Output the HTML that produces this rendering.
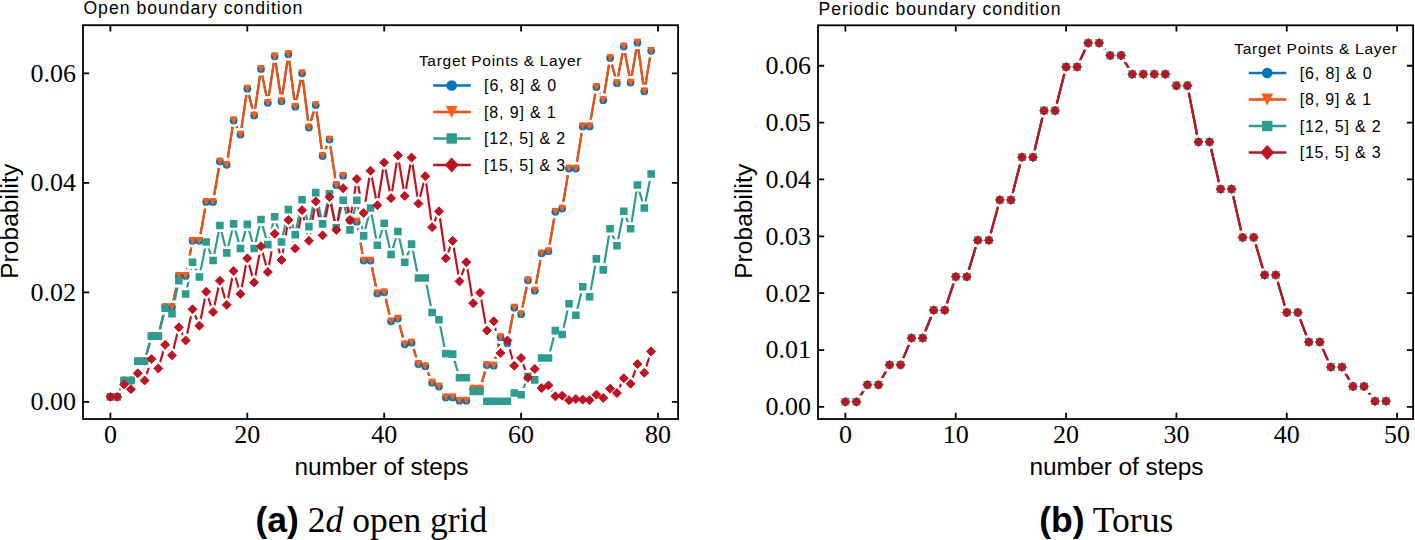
<!DOCTYPE html>
<html><head><meta charset="utf-8"><title>Probability plots</title>
<style>
html,body{margin:0;padding:0;background:#fff;}
body{width:1415px;height:540px;overflow:hidden;}
svg{display:block;}
.tk{font-family:"Liberation Serif",serif;font-size:26px;fill:#000;}
.lg{font-family:"Liberation Sans",sans-serif;font-size:16px;fill:#000;}
.lgt{font-family:"Liberation Sans",sans-serif;font-size:15.5px;fill:#000;}
.ttl{font-family:"Liberation Sans",sans-serif;font-size:17.6px;fill:#000;}
.al{font-family:"Liberation Sans",sans-serif;font-size:24.4px;fill:#000;}
.cap{font-family:"Liberation Serif",serif;font-size:35.5px;fill:#000;}
.capb{font-family:"Liberation Sans",sans-serif;font-weight:bold;}
</style></head>
<body>
<svg width="1415" height="540" viewBox="0 0 1415 540">
<rect width="1415" height="540" fill="#fff"/>
<clipPath id="cl"><rect x="83" y="25.2" width="595.1" height="393.8"/></clipPath>
<g clip-path="url(#cl)">
<polyline points="110.4,396.87 117.25,396.87 124.09,380.45 130.94,380.45 137.78,361.29 144.62,361.29 151.47,336.1 158.31,336.1 165.16,307.08 172,307.08 178.85,275.88 185.69,275.88 192.54,240.84 199.38,240.84 206.23,201.96 213.07,201.96 219.92,161.45 226.76,164.73 233.61,120.38 240.46,134.62 247.3,88.63 254.15,115.46 260.99,68.92 267.84,102.87 274.68,56.33 281.52,101.22 288.37,54.14 295.22,106.7 302.06,73.3 308.9,127.5 315.75,105.06 322.6,155.97 329.44,139.55 336.28,184.99 343.13,175.68 349.98,220.58 356.82,221.67 363.66,260.55 370.51,260.55 377.36,293.39 384.2,292.3 391.04,321.32 397.89,318.58 404.74,344.31 411.58,342.67 418.42,364.02 425.27,366.21 432.12,382.64 438.96,386.47 445.8,397.42 452.65,397.42 459.5,400.7 466.34,400.7 473.18,388.66 480.03,388.66 486.88,365.12 493.72,365.67 500.56,337.19 507.41,343.22 514.25,307.63 521.1,314.2 527.94,280.25 534.79,290.66 541.63,253.43 548.48,251.24 555.33,211.82 562.17,208.53 569.01,168.57 575.86,168.57 582.71,126.41 589.55,126.41 596.39,86.99 603.24,100.13 610.09,57.97 616.93,83.16 623.77,46.47 630.62,82.61 637.46,42.64 644.31,91.37 651.15,50.85" fill="none" stroke="#0077BB" stroke-width="2.2" stroke-linejoin="round"/>
<polyline points="110.4,396.87 117.25,396.87 124.09,380.45 130.94,380.45 137.78,361.29 144.62,361.29 151.47,336.1 158.31,336.1 165.16,307.08 172,307.08 178.85,275.88 185.69,275.88 192.54,240.84 199.38,240.84 206.23,201.96 213.07,201.96 219.92,161.45 226.76,164.73 233.61,120.38 240.46,134.62 247.3,88.63 254.15,115.46 260.99,68.92 267.84,102.87 274.68,56.33 281.52,101.22 288.37,54.14 295.22,106.7 302.06,73.3 308.9,127.5 315.75,105.06 322.6,155.97 329.44,139.55 336.28,184.99 343.13,175.68 349.98,220.58 356.82,221.67 363.66,260.55 370.51,260.55 377.36,293.39 384.2,292.3 391.04,321.32 397.89,318.58 404.74,344.31 411.58,342.67 418.42,364.02 425.27,366.21 432.12,382.64 438.96,386.47 445.8,397.42 452.65,397.42 459.5,400.7 466.34,400.7 473.18,388.66 480.03,388.66 486.88,365.12 493.72,365.67 500.56,337.19 507.41,343.22 514.25,307.63 521.1,314.2 527.94,280.25 534.79,290.66 541.63,253.43 548.48,251.24 555.33,211.82 562.17,208.53 569.01,168.57 575.86,168.57 582.71,126.41 589.55,126.41 596.39,86.99 603.24,100.13 610.09,57.97 616.93,83.16 623.77,46.47 630.62,82.61 637.46,42.64 644.31,91.37 651.15,50.85" fill="none" stroke="#FB4D06" stroke-width="2.2" stroke-linejoin="round"/>
<polyline points="110.4,396.87 117.25,396.87 124.09,380.45 130.94,380.45 137.78,361.29 144.62,361.29 151.47,336.1 158.31,336.1 165.16,308.18 172,313.65 178.85,280.8 185.69,293.94 192.54,262.19 199.38,276.97 206.23,241.93 213.07,260.55 219.92,225.51 226.76,252.88 233.61,223.86 240.46,248.5 247.3,224.41 254.15,248.5 260.99,219.48 267.84,244.67 274.68,216.75 281.52,241.93 288.37,209.63 295.22,234.81 302.06,199.77 308.9,226.6 315.75,192.66 322.6,223.86 329.44,193.75 336.28,227.69 343.13,200.32 349.98,229.89 356.82,200.32 363.66,235.91 370.51,207.99 377.36,245.22 384.2,223.32 391.04,254.52 397.89,231.53 404.74,262.19 411.58,244.12 418.42,278.07 425.27,278.07 432.12,312.56 438.96,319.68 445.8,353.62 452.65,354.17 459.5,377.71 466.34,377.71 473.18,391.4 480.03,391.4 486.88,401.25 493.72,401.25 500.56,401.25 507.41,401.25 514.25,393.04 521.1,394.68 527.94,376.62 534.79,379.9 541.63,358 548.48,358 555.33,330.62 562.17,334.46 569.01,303.8 575.86,315.3 582.71,286.82 589.55,296.68 596.39,258.9 603.24,269.85 610.09,228.79 616.93,245.76 623.77,211.27 630.62,228.79 637.46,184.99 644.31,207.99 651.15,174.04" fill="none" stroke="#2A9D8F" stroke-width="2.2" stroke-linejoin="round"/>
<polyline points="110.4,396.87 117.25,396.87 124.09,384.28 130.94,389.21 137.78,373.33 144.62,380.45 151.47,359.1 158.31,368.4 165.16,344.86 172,355.26 178.85,327.34 185.69,340.48 192.54,309.27 199.38,325.7 206.23,291.75 213.07,312.01 219.92,280.8 226.76,304.89 233.61,270.95 240.46,293.94 247.3,258.36 254.15,282.44 260.99,246.31 267.84,272.04 274.68,233.72 281.52,260 288.37,220.03 295.22,248.5 302.06,210.17 308.9,240.84 315.75,201.42 322.6,235.36 329.44,197.03 336.28,229.89 343.13,188.28 349.98,220.03 356.82,178.97 363.66,212.91 370.51,170.75 377.36,205.25 384.2,162.54 391.04,198.13 397.89,155.43 404.74,195.94 411.58,157.62 418.42,203.6 425.27,176.23 432.12,227.15 438.96,211.27 445.8,258.36 452.65,240.84 459.5,281.35 466.34,262.19 473.18,303.25 480.03,292.85 486.88,330.62 493.72,321.32 500.56,353.07 507.41,340.48 514.25,365.67 521.1,358 527.94,377.71 534.79,368.95 541.63,388.11 548.48,385.38 555.33,396.32 562.17,395.78 569.01,400.16 575.86,399.06 582.71,399.61 589.55,400.16 596.39,394.68 603.24,397.97 610.09,388.66 616.93,393.04 623.77,378.26 630.62,383.73 637.46,364.02 644.31,372.78 651.15,351.43" fill="none" stroke="#C1121F" stroke-width="2.2" stroke-linejoin="round"/>
<path d="M106.5 396.87a3.9 3.9 0 1 0 7.8 0a3.9 3.9 0 1 0 -7.8 0zM113.34 396.87a3.9 3.9 0 1 0 7.8 0a3.9 3.9 0 1 0 -7.8 0zM120.19 380.45a3.9 3.9 0 1 0 7.8 0a3.9 3.9 0 1 0 -7.8 0zM127.03 380.45a3.9 3.9 0 1 0 7.8 0a3.9 3.9 0 1 0 -7.8 0zM133.88 361.29a3.9 3.9 0 1 0 7.8 0a3.9 3.9 0 1 0 -7.8 0zM140.72 361.29a3.9 3.9 0 1 0 7.8 0a3.9 3.9 0 1 0 -7.8 0zM147.57 336.1a3.9 3.9 0 1 0 7.8 0a3.9 3.9 0 1 0 -7.8 0zM154.41 336.1a3.9 3.9 0 1 0 7.8 0a3.9 3.9 0 1 0 -7.8 0zM161.26 307.08a3.9 3.9 0 1 0 7.8 0a3.9 3.9 0 1 0 -7.8 0zM168.1 307.08a3.9 3.9 0 1 0 7.8 0a3.9 3.9 0 1 0 -7.8 0zM174.95 275.88a3.9 3.9 0 1 0 7.8 0a3.9 3.9 0 1 0 -7.8 0zM181.79 275.88a3.9 3.9 0 1 0 7.8 0a3.9 3.9 0 1 0 -7.8 0zM188.64 240.84a3.9 3.9 0 1 0 7.8 0a3.9 3.9 0 1 0 -7.8 0zM195.48 240.84a3.9 3.9 0 1 0 7.8 0a3.9 3.9 0 1 0 -7.8 0zM202.33 201.96a3.9 3.9 0 1 0 7.8 0a3.9 3.9 0 1 0 -7.8 0zM209.17 201.96a3.9 3.9 0 1 0 7.8 0a3.9 3.9 0 1 0 -7.8 0zM216.02 161.45a3.9 3.9 0 1 0 7.8 0a3.9 3.9 0 1 0 -7.8 0zM222.86 164.73a3.9 3.9 0 1 0 7.8 0a3.9 3.9 0 1 0 -7.8 0zM229.71 120.38a3.9 3.9 0 1 0 7.8 0a3.9 3.9 0 1 0 -7.8 0zM236.56 134.62a3.9 3.9 0 1 0 7.8 0a3.9 3.9 0 1 0 -7.8 0zM243.4 88.63a3.9 3.9 0 1 0 7.8 0a3.9 3.9 0 1 0 -7.8 0zM250.25 115.46a3.9 3.9 0 1 0 7.8 0a3.9 3.9 0 1 0 -7.8 0zM257.09 68.92a3.9 3.9 0 1 0 7.8 0a3.9 3.9 0 1 0 -7.8 0zM263.94 102.87a3.9 3.9 0 1 0 7.8 0a3.9 3.9 0 1 0 -7.8 0zM270.78 56.33a3.9 3.9 0 1 0 7.8 0a3.9 3.9 0 1 0 -7.8 0zM277.62 101.22a3.9 3.9 0 1 0 7.8 0a3.9 3.9 0 1 0 -7.8 0zM284.47 54.14a3.9 3.9 0 1 0 7.8 0a3.9 3.9 0 1 0 -7.8 0zM291.32 106.7a3.9 3.9 0 1 0 7.8 0a3.9 3.9 0 1 0 -7.8 0zM298.16 73.3a3.9 3.9 0 1 0 7.8 0a3.9 3.9 0 1 0 -7.8 0zM305 127.5a3.9 3.9 0 1 0 7.8 0a3.9 3.9 0 1 0 -7.8 0zM311.85 105.06a3.9 3.9 0 1 0 7.8 0a3.9 3.9 0 1 0 -7.8 0zM318.7 155.97a3.9 3.9 0 1 0 7.8 0a3.9 3.9 0 1 0 -7.8 0zM325.54 139.55a3.9 3.9 0 1 0 7.8 0a3.9 3.9 0 1 0 -7.8 0zM332.38 184.99a3.9 3.9 0 1 0 7.8 0a3.9 3.9 0 1 0 -7.8 0zM339.23 175.68a3.9 3.9 0 1 0 7.8 0a3.9 3.9 0 1 0 -7.8 0zM346.08 220.58a3.9 3.9 0 1 0 7.8 0a3.9 3.9 0 1 0 -7.8 0zM352.92 221.67a3.9 3.9 0 1 0 7.8 0a3.9 3.9 0 1 0 -7.8 0zM359.76 260.55a3.9 3.9 0 1 0 7.8 0a3.9 3.9 0 1 0 -7.8 0zM366.61 260.55a3.9 3.9 0 1 0 7.8 0a3.9 3.9 0 1 0 -7.8 0zM373.46 293.39a3.9 3.9 0 1 0 7.8 0a3.9 3.9 0 1 0 -7.8 0zM380.3 292.3a3.9 3.9 0 1 0 7.8 0a3.9 3.9 0 1 0 -7.8 0zM387.14 321.32a3.9 3.9 0 1 0 7.8 0a3.9 3.9 0 1 0 -7.8 0zM393.99 318.58a3.9 3.9 0 1 0 7.8 0a3.9 3.9 0 1 0 -7.8 0zM400.84 344.31a3.9 3.9 0 1 0 7.8 0a3.9 3.9 0 1 0 -7.8 0zM407.68 342.67a3.9 3.9 0 1 0 7.8 0a3.9 3.9 0 1 0 -7.8 0zM414.52 364.02a3.9 3.9 0 1 0 7.8 0a3.9 3.9 0 1 0 -7.8 0zM421.37 366.21a3.9 3.9 0 1 0 7.8 0a3.9 3.9 0 1 0 -7.8 0zM428.22 382.64a3.9 3.9 0 1 0 7.8 0a3.9 3.9 0 1 0 -7.8 0zM435.06 386.47a3.9 3.9 0 1 0 7.8 0a3.9 3.9 0 1 0 -7.8 0zM441.9 397.42a3.9 3.9 0 1 0 7.8 0a3.9 3.9 0 1 0 -7.8 0zM448.75 397.42a3.9 3.9 0 1 0 7.8 0a3.9 3.9 0 1 0 -7.8 0zM455.6 400.7a3.9 3.9 0 1 0 7.8 0a3.9 3.9 0 1 0 -7.8 0zM462.44 400.7a3.9 3.9 0 1 0 7.8 0a3.9 3.9 0 1 0 -7.8 0zM469.28 388.66a3.9 3.9 0 1 0 7.8 0a3.9 3.9 0 1 0 -7.8 0zM476.13 388.66a3.9 3.9 0 1 0 7.8 0a3.9 3.9 0 1 0 -7.8 0zM482.98 365.12a3.9 3.9 0 1 0 7.8 0a3.9 3.9 0 1 0 -7.8 0zM489.82 365.67a3.9 3.9 0 1 0 7.8 0a3.9 3.9 0 1 0 -7.8 0zM496.66 337.19a3.9 3.9 0 1 0 7.8 0a3.9 3.9 0 1 0 -7.8 0zM503.51 343.22a3.9 3.9 0 1 0 7.8 0a3.9 3.9 0 1 0 -7.8 0zM510.36 307.63a3.9 3.9 0 1 0 7.8 0a3.9 3.9 0 1 0 -7.8 0zM517.2 314.2a3.9 3.9 0 1 0 7.8 0a3.9 3.9 0 1 0 -7.8 0zM524.04 280.25a3.9 3.9 0 1 0 7.8 0a3.9 3.9 0 1 0 -7.8 0zM530.89 290.66a3.9 3.9 0 1 0 7.8 0a3.9 3.9 0 1 0 -7.8 0zM537.74 253.43a3.9 3.9 0 1 0 7.8 0a3.9 3.9 0 1 0 -7.8 0zM544.58 251.24a3.9 3.9 0 1 0 7.8 0a3.9 3.9 0 1 0 -7.8 0zM551.43 211.82a3.9 3.9 0 1 0 7.8 0a3.9 3.9 0 1 0 -7.8 0zM558.27 208.53a3.9 3.9 0 1 0 7.8 0a3.9 3.9 0 1 0 -7.8 0zM565.12 168.57a3.9 3.9 0 1 0 7.8 0a3.9 3.9 0 1 0 -7.8 0zM571.96 168.57a3.9 3.9 0 1 0 7.8 0a3.9 3.9 0 1 0 -7.8 0zM578.81 126.41a3.9 3.9 0 1 0 7.8 0a3.9 3.9 0 1 0 -7.8 0zM585.65 126.41a3.9 3.9 0 1 0 7.8 0a3.9 3.9 0 1 0 -7.8 0zM592.5 86.99a3.9 3.9 0 1 0 7.8 0a3.9 3.9 0 1 0 -7.8 0zM599.34 100.13a3.9 3.9 0 1 0 7.8 0a3.9 3.9 0 1 0 -7.8 0zM606.19 57.97a3.9 3.9 0 1 0 7.8 0a3.9 3.9 0 1 0 -7.8 0zM613.03 83.16a3.9 3.9 0 1 0 7.8 0a3.9 3.9 0 1 0 -7.8 0zM619.88 46.47a3.9 3.9 0 1 0 7.8 0a3.9 3.9 0 1 0 -7.8 0zM626.72 82.61a3.9 3.9 0 1 0 7.8 0a3.9 3.9 0 1 0 -7.8 0zM633.56 42.64a3.9 3.9 0 1 0 7.8 0a3.9 3.9 0 1 0 -7.8 0zM640.41 91.37a3.9 3.9 0 1 0 7.8 0a3.9 3.9 0 1 0 -7.8 0zM647.25 50.85a3.9 3.9 0 1 0 7.8 0a3.9 3.9 0 1 0 -7.8 0zM106.6 393.07H114.2L110.4 400.67zM113.45 393.07H121.05L117.25 400.67zM120.29 376.65H127.89L124.09 384.25zM127.14 376.65H134.74L130.94 384.25zM133.98 357.49H141.58L137.78 365.09zM140.82 357.49H148.43L144.62 365.09zM147.67 332.3H155.27L151.47 339.9zM154.51 332.3H162.12L158.31 339.9zM161.36 303.28H168.96L165.16 310.88zM168.2 303.28H175.81L172 310.88zM175.05 272.07H182.65L178.85 279.68zM181.89 272.07H189.5L185.69 279.68zM188.74 237.03H196.34L192.54 244.64zM195.58 237.03H203.19L199.38 244.64zM202.43 198.16H210.03L206.23 205.76zM209.27 198.16H216.88L213.07 205.76zM216.12 157.65H223.72L219.92 165.25zM222.96 160.93H230.56L226.76 168.53zM229.81 116.58H237.41L233.61 124.18zM236.66 130.82H244.26L240.46 138.42zM243.5 84.83H251.1L247.3 92.43zM250.34 111.66H257.94L254.15 119.26zM257.19 65.12H264.79L260.99 72.72zM264.04 99.07H271.64L267.84 106.67zM270.88 52.53H278.48L274.68 60.13zM277.72 97.42H285.32L281.52 105.02zM284.57 50.34H292.17L288.37 57.94zM291.42 102.9H299.02L295.22 110.5zM298.26 69.5H305.86L302.06 77.1zM305.1 123.7H312.7L308.9 131.3zM311.95 101.26H319.55L315.75 108.86zM318.8 152.17H326.4L322.6 159.77zM325.64 135.75H333.24L329.44 143.35zM332.48 181.19H340.08L336.28 188.79zM339.33 171.88H346.93L343.13 179.48zM346.18 216.78H353.78L349.98 224.38zM353.02 217.87H360.62L356.82 225.47zM359.86 256.75H367.46L363.66 264.35zM366.71 256.75H374.31L370.51 264.35zM373.56 289.59H381.16L377.36 297.19zM380.4 288.5H388L384.2 296.1zM387.24 317.52H394.84L391.04 325.12zM394.09 314.78H401.69L397.89 322.38zM400.94 340.51H408.54L404.74 348.11zM407.78 338.87H415.38L411.58 346.47zM414.62 360.22H422.22L418.42 367.82zM421.47 362.41H429.07L425.27 370.01zM428.31 378.84H435.92L432.12 386.44zM435.16 382.67H442.76L438.96 390.27zM442 393.62H449.6L445.8 401.22zM448.85 393.62H456.45L452.65 401.22zM455.69 396.9H463.3L459.5 404.5zM462.54 396.9H470.14L466.34 404.5zM469.38 384.86H476.98L473.18 392.46zM476.23 384.86H483.83L480.03 392.46zM483.07 361.32H490.68L486.88 368.92zM489.92 361.87H497.52L493.72 369.47zM496.76 333.39H504.36L500.56 341zM503.61 339.42H511.21L507.41 347.02zM510.45 303.83H518.05L514.25 311.43zM517.3 310.4H524.9L521.1 318zM524.14 276.45H531.74L527.94 284.06zM530.99 286.86H538.59L534.79 294.46zM537.84 249.63H545.43L541.63 257.23zM544.68 247.44H552.28L548.48 255.04zM551.53 208.02H559.12L555.33 215.62zM558.37 204.73H565.97L562.17 212.33zM565.22 164.77H572.81L569.01 172.37zM572.06 164.77H579.66L575.86 172.37zM578.91 122.61H586.5L582.71 130.21zM585.75 122.61H593.35L589.55 130.21zM592.6 83.19H600.19L596.39 90.79zM599.44 96.33H607.04L603.24 103.93zM606.29 54.17H613.88L610.09 61.77zM613.13 79.36H620.73L616.93 86.96zM619.98 42.67H627.57L623.77 50.27zM626.82 78.81H634.42L630.62 86.41zM633.66 38.84H641.26L637.46 46.44zM640.51 87.57H648.11L644.31 95.17zM647.36 47.05H654.95L651.15 54.65zM106.6 393.07h7.6v7.6h-7.6zM113.45 393.07h7.6v7.6h-7.6zM120.29 376.65h7.6v7.6h-7.6zM127.14 376.65h7.6v7.6h-7.6zM133.98 357.49h7.6v7.6h-7.6zM140.82 357.49h7.6v7.6h-7.6zM147.67 332.3h7.6v7.6h-7.6zM154.51 332.3h7.6v7.6h-7.6zM161.36 304.38h7.6v7.6h-7.6zM168.2 309.85h7.6v7.6h-7.6zM175.05 277h7.6v7.6h-7.6zM181.89 290.14h7.6v7.6h-7.6zM188.74 258.39h7.6v7.6h-7.6zM195.58 273.17h7.6v7.6h-7.6zM202.43 238.13h7.6v7.6h-7.6zM209.27 256.75h7.6v7.6h-7.6zM216.12 221.71h7.6v7.6h-7.6zM222.96 249.08h7.6v7.6h-7.6zM229.81 220.06h7.6v7.6h-7.6zM236.66 244.7h7.6v7.6h-7.6zM243.5 220.61h7.6v7.6h-7.6zM250.34 244.7h7.6v7.6h-7.6zM257.19 215.68h7.6v7.6h-7.6zM264.04 240.87h7.6v7.6h-7.6zM270.88 212.95h7.6v7.6h-7.6zM277.72 238.13h7.6v7.6h-7.6zM284.57 205.83h7.6v7.6h-7.6zM291.42 231.01h7.6v7.6h-7.6zM298.26 195.97h7.6v7.6h-7.6zM305.1 222.8h7.6v7.6h-7.6zM311.95 188.86h7.6v7.6h-7.6zM318.8 220.06h7.6v7.6h-7.6zM325.64 189.95h7.6v7.6h-7.6zM332.48 223.89h7.6v7.6h-7.6zM339.33 196.52h7.6v7.6h-7.6zM346.18 226.09h7.6v7.6h-7.6zM353.02 196.52h7.6v7.6h-7.6zM359.86 232.11h7.6v7.6h-7.6zM366.71 204.19h7.6v7.6h-7.6zM373.56 241.41h7.6v7.6h-7.6zM380.4 219.52h7.6v7.6h-7.6zM387.24 250.72h7.6v7.6h-7.6zM394.09 227.73h7.6v7.6h-7.6zM400.94 258.39h7.6v7.6h-7.6zM407.78 240.32h7.6v7.6h-7.6zM414.62 274.27h7.6v7.6h-7.6zM421.47 274.27h7.6v7.6h-7.6zM428.31 308.76h7.6v7.6h-7.6zM435.16 315.88h7.6v7.6h-7.6zM442 349.82h7.6v7.6h-7.6zM448.85 350.37h7.6v7.6h-7.6zM455.69 373.91h7.6v7.6h-7.6zM462.54 373.91h7.6v7.6h-7.6zM469.38 387.6h7.6v7.6h-7.6zM476.23 387.6h7.6v7.6h-7.6zM483.07 397.45h7.6v7.6h-7.6zM489.92 397.45h7.6v7.6h-7.6zM496.76 397.45h7.6v7.6h-7.6zM503.61 397.45h7.6v7.6h-7.6zM510.45 389.24h7.6v7.6h-7.6zM517.3 390.88h7.6v7.6h-7.6zM524.14 372.81h7.6v7.6h-7.6zM530.99 376.1h7.6v7.6h-7.6zM537.84 354.2h7.6v7.6h-7.6zM544.68 354.2h7.6v7.6h-7.6zM551.53 326.82h7.6v7.6h-7.6zM558.37 330.66h7.6v7.6h-7.6zM565.22 300h7.6v7.6h-7.6zM572.06 311.5h7.6v7.6h-7.6zM578.91 283.02h7.6v7.6h-7.6zM585.75 292.88h7.6v7.6h-7.6zM592.6 255.1h7.6v7.6h-7.6zM599.44 266.05h7.6v7.6h-7.6zM606.29 224.99h7.6v7.6h-7.6zM613.13 241.96h7.6v7.6h-7.6zM619.98 207.47h7.6v7.6h-7.6zM626.82 224.99h7.6v7.6h-7.6zM633.66 181.19h7.6v7.6h-7.6zM640.51 204.19h7.6v7.6h-7.6zM647.36 170.24h7.6v7.6h-7.6zM110.4 392.37L114.9 396.87L110.4 401.37L105.9 396.87zM117.25 392.37L121.75 396.87L117.25 401.37L112.75 396.87zM124.09 379.78L128.59 384.28L124.09 388.78L119.59 384.28zM130.94 384.71L135.44 389.21L130.94 393.71L126.44 389.21zM137.78 368.83L142.28 373.33L137.78 377.83L133.28 373.33zM144.62 375.95L149.12 380.45L144.62 384.95L140.12 380.45zM151.47 354.6L155.97 359.1L151.47 363.6L146.97 359.1zM158.31 363.9L162.81 368.4L158.31 372.9L153.81 368.4zM165.16 340.36L169.66 344.86L165.16 349.36L160.66 344.86zM172 350.76L176.5 355.26L172 359.76L167.5 355.26zM178.85 322.84L183.35 327.34L178.85 331.84L174.35 327.34zM185.69 335.98L190.19 340.48L185.69 344.98L181.19 340.48zM192.54 304.77L197.04 309.27L192.54 313.77L188.04 309.27zM199.38 321.2L203.88 325.7L199.38 330.2L194.88 325.7zM206.23 287.25L210.73 291.75L206.23 296.25L201.73 291.75zM213.07 307.51L217.57 312.01L213.07 316.51L208.57 312.01zM219.92 276.3L224.42 280.8L219.92 285.3L215.42 280.8zM226.76 300.39L231.26 304.89L226.76 309.39L222.26 304.89zM233.61 266.45L238.11 270.95L233.61 275.45L229.11 270.95zM240.46 289.44L244.96 293.94L240.46 298.44L235.96 293.94zM247.3 253.86L251.8 258.36L247.3 262.86L242.8 258.36zM254.15 277.94L258.64 282.44L254.15 286.94L249.65 282.44zM260.99 241.81L265.49 246.31L260.99 250.81L256.49 246.31zM267.84 267.54L272.34 272.04L267.84 276.54L263.34 272.04zM274.68 229.22L279.18 233.72L274.68 238.22L270.18 233.72zM281.52 255.5L286.02 260L281.52 264.5L277.02 260zM288.37 215.53L292.87 220.03L288.37 224.53L283.87 220.03zM295.22 244L299.72 248.5L295.22 253L290.72 248.5zM302.06 205.67L306.56 210.17L302.06 214.67L297.56 210.17zM308.9 236.34L313.4 240.84L308.9 245.34L304.4 240.84zM315.75 196.92L320.25 201.42L315.75 205.92L311.25 201.42zM322.6 230.86L327.1 235.36L322.6 239.86L318.1 235.36zM329.44 192.53L333.94 197.03L329.44 201.53L324.94 197.03zM336.28 225.39L340.78 229.89L336.28 234.39L331.78 229.89zM343.13 183.78L347.63 188.28L343.13 192.78L338.63 188.28zM349.98 215.53L354.48 220.03L349.98 224.53L345.48 220.03zM356.82 174.47L361.32 178.97L356.82 183.47L352.32 178.97zM363.66 208.41L368.16 212.91L363.66 217.41L359.16 212.91zM370.51 166.25L375.01 170.75L370.51 175.25L366.01 170.75zM377.36 200.75L381.86 205.25L377.36 209.75L372.86 205.25zM384.2 158.04L388.7 162.54L384.2 167.04L379.7 162.54zM391.04 193.63L395.54 198.13L391.04 202.63L386.54 198.13zM397.89 150.93L402.39 155.43L397.89 159.93L393.39 155.43zM404.74 191.44L409.24 195.94L404.74 200.44L400.24 195.94zM411.58 153.12L416.08 157.62L411.58 162.12L407.08 157.62zM418.42 199.1L422.92 203.6L418.42 208.1L413.92 203.6zM425.27 171.73L429.77 176.23L425.27 180.73L420.77 176.23zM432.12 222.65L436.62 227.15L432.12 231.65L427.62 227.15zM438.96 206.77L443.46 211.27L438.96 215.77L434.46 211.27zM445.8 253.86L450.3 258.36L445.8 262.86L441.3 258.36zM452.65 236.34L457.15 240.84L452.65 245.34L448.15 240.84zM459.5 276.85L464 281.35L459.5 285.85L455 281.35zM466.34 257.69L470.84 262.19L466.34 266.69L461.84 262.19zM473.18 298.75L477.68 303.25L473.18 307.75L468.68 303.25zM480.03 288.35L484.53 292.85L480.03 297.35L475.53 292.85zM486.88 326.12L491.38 330.62L486.88 335.12L482.38 330.62zM493.72 316.82L498.22 321.32L493.72 325.82L489.22 321.32zM500.56 348.57L505.06 353.07L500.56 357.57L496.06 353.07zM507.41 335.98L511.91 340.48L507.41 344.98L502.91 340.48zM514.25 361.17L518.75 365.67L514.25 370.17L509.75 365.67zM521.1 353.5L525.6 358L521.1 362.5L516.6 358zM527.94 373.21L532.44 377.71L527.94 382.21L523.44 377.71zM534.79 364.45L539.29 368.95L534.79 373.45L530.29 368.95zM541.63 383.61L546.13 388.11L541.63 392.61L537.13 388.11zM548.48 380.88L552.98 385.38L548.48 389.88L543.98 385.38zM555.33 391.82L559.83 396.32L555.33 400.82L550.83 396.32zM562.17 391.28L566.67 395.78L562.17 400.28L557.67 395.78zM569.01 395.66L573.51 400.16L569.01 404.66L564.51 400.16zM575.86 394.56L580.36 399.06L575.86 403.56L571.36 399.06zM582.71 395.11L587.21 399.61L582.71 404.11L578.21 399.61zM589.55 395.66L594.05 400.16L589.55 404.66L585.05 400.16zM596.39 390.18L600.89 394.68L596.39 399.18L591.89 394.68zM603.24 393.47L607.74 397.97L603.24 402.47L598.74 397.97zM610.09 384.16L614.59 388.66L610.09 393.16L605.59 388.66zM616.93 388.54L621.43 393.04L616.93 397.54L612.43 393.04zM623.77 373.76L628.27 378.26L623.77 382.76L619.27 378.26zM630.62 379.23L635.12 383.73L630.62 388.23L626.12 383.73zM637.46 359.52L641.96 364.02L637.46 368.52L632.96 364.02zM644.31 368.28L648.81 372.78L644.31 377.28L639.81 372.78zM651.15 346.93L655.65 351.43L651.15 355.93L646.65 351.43z" fill="#fff" stroke="#fff" stroke-width="5.6" stroke-linejoin="round"/>
<path d="M106.5 396.87a3.9 3.9 0 1 0 7.8 0a3.9 3.9 0 1 0 -7.8 0zM113.34 396.87a3.9 3.9 0 1 0 7.8 0a3.9 3.9 0 1 0 -7.8 0zM120.19 380.45a3.9 3.9 0 1 0 7.8 0a3.9 3.9 0 1 0 -7.8 0zM127.03 380.45a3.9 3.9 0 1 0 7.8 0a3.9 3.9 0 1 0 -7.8 0zM133.88 361.29a3.9 3.9 0 1 0 7.8 0a3.9 3.9 0 1 0 -7.8 0zM140.72 361.29a3.9 3.9 0 1 0 7.8 0a3.9 3.9 0 1 0 -7.8 0zM147.57 336.1a3.9 3.9 0 1 0 7.8 0a3.9 3.9 0 1 0 -7.8 0zM154.41 336.1a3.9 3.9 0 1 0 7.8 0a3.9 3.9 0 1 0 -7.8 0zM161.26 307.08a3.9 3.9 0 1 0 7.8 0a3.9 3.9 0 1 0 -7.8 0zM168.1 307.08a3.9 3.9 0 1 0 7.8 0a3.9 3.9 0 1 0 -7.8 0zM174.95 275.88a3.9 3.9 0 1 0 7.8 0a3.9 3.9 0 1 0 -7.8 0zM181.79 275.88a3.9 3.9 0 1 0 7.8 0a3.9 3.9 0 1 0 -7.8 0zM188.64 240.84a3.9 3.9 0 1 0 7.8 0a3.9 3.9 0 1 0 -7.8 0zM195.48 240.84a3.9 3.9 0 1 0 7.8 0a3.9 3.9 0 1 0 -7.8 0zM202.33 201.96a3.9 3.9 0 1 0 7.8 0a3.9 3.9 0 1 0 -7.8 0zM209.17 201.96a3.9 3.9 0 1 0 7.8 0a3.9 3.9 0 1 0 -7.8 0zM216.02 161.45a3.9 3.9 0 1 0 7.8 0a3.9 3.9 0 1 0 -7.8 0zM222.86 164.73a3.9 3.9 0 1 0 7.8 0a3.9 3.9 0 1 0 -7.8 0zM229.71 120.38a3.9 3.9 0 1 0 7.8 0a3.9 3.9 0 1 0 -7.8 0zM236.56 134.62a3.9 3.9 0 1 0 7.8 0a3.9 3.9 0 1 0 -7.8 0zM243.4 88.63a3.9 3.9 0 1 0 7.8 0a3.9 3.9 0 1 0 -7.8 0zM250.25 115.46a3.9 3.9 0 1 0 7.8 0a3.9 3.9 0 1 0 -7.8 0zM257.09 68.92a3.9 3.9 0 1 0 7.8 0a3.9 3.9 0 1 0 -7.8 0zM263.94 102.87a3.9 3.9 0 1 0 7.8 0a3.9 3.9 0 1 0 -7.8 0zM270.78 56.33a3.9 3.9 0 1 0 7.8 0a3.9 3.9 0 1 0 -7.8 0zM277.62 101.22a3.9 3.9 0 1 0 7.8 0a3.9 3.9 0 1 0 -7.8 0zM284.47 54.14a3.9 3.9 0 1 0 7.8 0a3.9 3.9 0 1 0 -7.8 0zM291.32 106.7a3.9 3.9 0 1 0 7.8 0a3.9 3.9 0 1 0 -7.8 0zM298.16 73.3a3.9 3.9 0 1 0 7.8 0a3.9 3.9 0 1 0 -7.8 0zM305 127.5a3.9 3.9 0 1 0 7.8 0a3.9 3.9 0 1 0 -7.8 0zM311.85 105.06a3.9 3.9 0 1 0 7.8 0a3.9 3.9 0 1 0 -7.8 0zM318.7 155.97a3.9 3.9 0 1 0 7.8 0a3.9 3.9 0 1 0 -7.8 0zM325.54 139.55a3.9 3.9 0 1 0 7.8 0a3.9 3.9 0 1 0 -7.8 0zM332.38 184.99a3.9 3.9 0 1 0 7.8 0a3.9 3.9 0 1 0 -7.8 0zM339.23 175.68a3.9 3.9 0 1 0 7.8 0a3.9 3.9 0 1 0 -7.8 0zM346.08 220.58a3.9 3.9 0 1 0 7.8 0a3.9 3.9 0 1 0 -7.8 0zM352.92 221.67a3.9 3.9 0 1 0 7.8 0a3.9 3.9 0 1 0 -7.8 0zM359.76 260.55a3.9 3.9 0 1 0 7.8 0a3.9 3.9 0 1 0 -7.8 0zM366.61 260.55a3.9 3.9 0 1 0 7.8 0a3.9 3.9 0 1 0 -7.8 0zM373.46 293.39a3.9 3.9 0 1 0 7.8 0a3.9 3.9 0 1 0 -7.8 0zM380.3 292.3a3.9 3.9 0 1 0 7.8 0a3.9 3.9 0 1 0 -7.8 0zM387.14 321.32a3.9 3.9 0 1 0 7.8 0a3.9 3.9 0 1 0 -7.8 0zM393.99 318.58a3.9 3.9 0 1 0 7.8 0a3.9 3.9 0 1 0 -7.8 0zM400.84 344.31a3.9 3.9 0 1 0 7.8 0a3.9 3.9 0 1 0 -7.8 0zM407.68 342.67a3.9 3.9 0 1 0 7.8 0a3.9 3.9 0 1 0 -7.8 0zM414.52 364.02a3.9 3.9 0 1 0 7.8 0a3.9 3.9 0 1 0 -7.8 0zM421.37 366.21a3.9 3.9 0 1 0 7.8 0a3.9 3.9 0 1 0 -7.8 0zM428.22 382.64a3.9 3.9 0 1 0 7.8 0a3.9 3.9 0 1 0 -7.8 0zM435.06 386.47a3.9 3.9 0 1 0 7.8 0a3.9 3.9 0 1 0 -7.8 0zM441.9 397.42a3.9 3.9 0 1 0 7.8 0a3.9 3.9 0 1 0 -7.8 0zM448.75 397.42a3.9 3.9 0 1 0 7.8 0a3.9 3.9 0 1 0 -7.8 0zM455.6 400.7a3.9 3.9 0 1 0 7.8 0a3.9 3.9 0 1 0 -7.8 0zM462.44 400.7a3.9 3.9 0 1 0 7.8 0a3.9 3.9 0 1 0 -7.8 0zM469.28 388.66a3.9 3.9 0 1 0 7.8 0a3.9 3.9 0 1 0 -7.8 0zM476.13 388.66a3.9 3.9 0 1 0 7.8 0a3.9 3.9 0 1 0 -7.8 0zM482.98 365.12a3.9 3.9 0 1 0 7.8 0a3.9 3.9 0 1 0 -7.8 0zM489.82 365.67a3.9 3.9 0 1 0 7.8 0a3.9 3.9 0 1 0 -7.8 0zM496.66 337.19a3.9 3.9 0 1 0 7.8 0a3.9 3.9 0 1 0 -7.8 0zM503.51 343.22a3.9 3.9 0 1 0 7.8 0a3.9 3.9 0 1 0 -7.8 0zM510.36 307.63a3.9 3.9 0 1 0 7.8 0a3.9 3.9 0 1 0 -7.8 0zM517.2 314.2a3.9 3.9 0 1 0 7.8 0a3.9 3.9 0 1 0 -7.8 0zM524.04 280.25a3.9 3.9 0 1 0 7.8 0a3.9 3.9 0 1 0 -7.8 0zM530.89 290.66a3.9 3.9 0 1 0 7.8 0a3.9 3.9 0 1 0 -7.8 0zM537.74 253.43a3.9 3.9 0 1 0 7.8 0a3.9 3.9 0 1 0 -7.8 0zM544.58 251.24a3.9 3.9 0 1 0 7.8 0a3.9 3.9 0 1 0 -7.8 0zM551.43 211.82a3.9 3.9 0 1 0 7.8 0a3.9 3.9 0 1 0 -7.8 0zM558.27 208.53a3.9 3.9 0 1 0 7.8 0a3.9 3.9 0 1 0 -7.8 0zM565.12 168.57a3.9 3.9 0 1 0 7.8 0a3.9 3.9 0 1 0 -7.8 0zM571.96 168.57a3.9 3.9 0 1 0 7.8 0a3.9 3.9 0 1 0 -7.8 0zM578.81 126.41a3.9 3.9 0 1 0 7.8 0a3.9 3.9 0 1 0 -7.8 0zM585.65 126.41a3.9 3.9 0 1 0 7.8 0a3.9 3.9 0 1 0 -7.8 0zM592.5 86.99a3.9 3.9 0 1 0 7.8 0a3.9 3.9 0 1 0 -7.8 0zM599.34 100.13a3.9 3.9 0 1 0 7.8 0a3.9 3.9 0 1 0 -7.8 0zM606.19 57.97a3.9 3.9 0 1 0 7.8 0a3.9 3.9 0 1 0 -7.8 0zM613.03 83.16a3.9 3.9 0 1 0 7.8 0a3.9 3.9 0 1 0 -7.8 0zM619.88 46.47a3.9 3.9 0 1 0 7.8 0a3.9 3.9 0 1 0 -7.8 0zM626.72 82.61a3.9 3.9 0 1 0 7.8 0a3.9 3.9 0 1 0 -7.8 0zM633.56 42.64a3.9 3.9 0 1 0 7.8 0a3.9 3.9 0 1 0 -7.8 0zM640.41 91.37a3.9 3.9 0 1 0 7.8 0a3.9 3.9 0 1 0 -7.8 0zM647.25 50.85a3.9 3.9 0 1 0 7.8 0a3.9 3.9 0 1 0 -7.8 0z" fill="#0077BB"/>
<path d="M106.6 393.07H114.2L110.4 400.67zM113.45 393.07H121.05L117.25 400.67zM120.29 376.65H127.89L124.09 384.25zM127.14 376.65H134.74L130.94 384.25zM133.98 357.49H141.58L137.78 365.09zM140.82 357.49H148.43L144.62 365.09zM147.67 332.3H155.27L151.47 339.9zM154.51 332.3H162.12L158.31 339.9zM161.36 303.28H168.96L165.16 310.88zM168.2 303.28H175.81L172 310.88zM175.05 272.07H182.65L178.85 279.68zM181.89 272.07H189.5L185.69 279.68zM188.74 237.03H196.34L192.54 244.64zM195.58 237.03H203.19L199.38 244.64zM202.43 198.16H210.03L206.23 205.76zM209.27 198.16H216.88L213.07 205.76zM216.12 157.65H223.72L219.92 165.25zM222.96 160.93H230.56L226.76 168.53zM229.81 116.58H237.41L233.61 124.18zM236.66 130.82H244.26L240.46 138.42zM243.5 84.83H251.1L247.3 92.43zM250.34 111.66H257.94L254.15 119.26zM257.19 65.12H264.79L260.99 72.72zM264.04 99.07H271.64L267.84 106.67zM270.88 52.53H278.48L274.68 60.13zM277.72 97.42H285.32L281.52 105.02zM284.57 50.34H292.17L288.37 57.94zM291.42 102.9H299.02L295.22 110.5zM298.26 69.5H305.86L302.06 77.1zM305.1 123.7H312.7L308.9 131.3zM311.95 101.26H319.55L315.75 108.86zM318.8 152.17H326.4L322.6 159.77zM325.64 135.75H333.24L329.44 143.35zM332.48 181.19H340.08L336.28 188.79zM339.33 171.88H346.93L343.13 179.48zM346.18 216.78H353.78L349.98 224.38zM353.02 217.87H360.62L356.82 225.47zM359.86 256.75H367.46L363.66 264.35zM366.71 256.75H374.31L370.51 264.35zM373.56 289.59H381.16L377.36 297.19zM380.4 288.5H388L384.2 296.1zM387.24 317.52H394.84L391.04 325.12zM394.09 314.78H401.69L397.89 322.38zM400.94 340.51H408.54L404.74 348.11zM407.78 338.87H415.38L411.58 346.47zM414.62 360.22H422.22L418.42 367.82zM421.47 362.41H429.07L425.27 370.01zM428.31 378.84H435.92L432.12 386.44zM435.16 382.67H442.76L438.96 390.27zM442 393.62H449.6L445.8 401.22zM448.85 393.62H456.45L452.65 401.22zM455.69 396.9H463.3L459.5 404.5zM462.54 396.9H470.14L466.34 404.5zM469.38 384.86H476.98L473.18 392.46zM476.23 384.86H483.83L480.03 392.46zM483.07 361.32H490.68L486.88 368.92zM489.92 361.87H497.52L493.72 369.47zM496.76 333.39H504.36L500.56 341zM503.61 339.42H511.21L507.41 347.02zM510.45 303.83H518.05L514.25 311.43zM517.3 310.4H524.9L521.1 318zM524.14 276.45H531.74L527.94 284.06zM530.99 286.86H538.59L534.79 294.46zM537.84 249.63H545.43L541.63 257.23zM544.68 247.44H552.28L548.48 255.04zM551.53 208.02H559.12L555.33 215.62zM558.37 204.73H565.97L562.17 212.33zM565.22 164.77H572.81L569.01 172.37zM572.06 164.77H579.66L575.86 172.37zM578.91 122.61H586.5L582.71 130.21zM585.75 122.61H593.35L589.55 130.21zM592.6 83.19H600.19L596.39 90.79zM599.44 96.33H607.04L603.24 103.93zM606.29 54.17H613.88L610.09 61.77zM613.13 79.36H620.73L616.93 86.96zM619.98 42.67H627.57L623.77 50.27zM626.82 78.81H634.42L630.62 86.41zM633.66 38.84H641.26L637.46 46.44zM640.51 87.57H648.11L644.31 95.17zM647.36 47.05H654.95L651.15 54.65z" fill="#FF5A12"/>
<path d="M106.6 393.07h7.6v7.6h-7.6zM113.45 393.07h7.6v7.6h-7.6zM120.29 376.65h7.6v7.6h-7.6zM127.14 376.65h7.6v7.6h-7.6zM133.98 357.49h7.6v7.6h-7.6zM140.82 357.49h7.6v7.6h-7.6zM147.67 332.3h7.6v7.6h-7.6zM154.51 332.3h7.6v7.6h-7.6zM161.36 304.38h7.6v7.6h-7.6zM168.2 309.85h7.6v7.6h-7.6zM175.05 277h7.6v7.6h-7.6zM181.89 290.14h7.6v7.6h-7.6zM188.74 258.39h7.6v7.6h-7.6zM195.58 273.17h7.6v7.6h-7.6zM202.43 238.13h7.6v7.6h-7.6zM209.27 256.75h7.6v7.6h-7.6zM216.12 221.71h7.6v7.6h-7.6zM222.96 249.08h7.6v7.6h-7.6zM229.81 220.06h7.6v7.6h-7.6zM236.66 244.7h7.6v7.6h-7.6zM243.5 220.61h7.6v7.6h-7.6zM250.34 244.7h7.6v7.6h-7.6zM257.19 215.68h7.6v7.6h-7.6zM264.04 240.87h7.6v7.6h-7.6zM270.88 212.95h7.6v7.6h-7.6zM277.72 238.13h7.6v7.6h-7.6zM284.57 205.83h7.6v7.6h-7.6zM291.42 231.01h7.6v7.6h-7.6zM298.26 195.97h7.6v7.6h-7.6zM305.1 222.8h7.6v7.6h-7.6zM311.95 188.86h7.6v7.6h-7.6zM318.8 220.06h7.6v7.6h-7.6zM325.64 189.95h7.6v7.6h-7.6zM332.48 223.89h7.6v7.6h-7.6zM339.33 196.52h7.6v7.6h-7.6zM346.18 226.09h7.6v7.6h-7.6zM353.02 196.52h7.6v7.6h-7.6zM359.86 232.11h7.6v7.6h-7.6zM366.71 204.19h7.6v7.6h-7.6zM373.56 241.41h7.6v7.6h-7.6zM380.4 219.52h7.6v7.6h-7.6zM387.24 250.72h7.6v7.6h-7.6zM394.09 227.73h7.6v7.6h-7.6zM400.94 258.39h7.6v7.6h-7.6zM407.78 240.32h7.6v7.6h-7.6zM414.62 274.27h7.6v7.6h-7.6zM421.47 274.27h7.6v7.6h-7.6zM428.31 308.76h7.6v7.6h-7.6zM435.16 315.88h7.6v7.6h-7.6zM442 349.82h7.6v7.6h-7.6zM448.85 350.37h7.6v7.6h-7.6zM455.69 373.91h7.6v7.6h-7.6zM462.54 373.91h7.6v7.6h-7.6zM469.38 387.6h7.6v7.6h-7.6zM476.23 387.6h7.6v7.6h-7.6zM483.07 397.45h7.6v7.6h-7.6zM489.92 397.45h7.6v7.6h-7.6zM496.76 397.45h7.6v7.6h-7.6zM503.61 397.45h7.6v7.6h-7.6zM510.45 389.24h7.6v7.6h-7.6zM517.3 390.88h7.6v7.6h-7.6zM524.14 372.81h7.6v7.6h-7.6zM530.99 376.1h7.6v7.6h-7.6zM537.84 354.2h7.6v7.6h-7.6zM544.68 354.2h7.6v7.6h-7.6zM551.53 326.82h7.6v7.6h-7.6zM558.37 330.66h7.6v7.6h-7.6zM565.22 300h7.6v7.6h-7.6zM572.06 311.5h7.6v7.6h-7.6zM578.91 283.02h7.6v7.6h-7.6zM585.75 292.88h7.6v7.6h-7.6zM592.6 255.1h7.6v7.6h-7.6zM599.44 266.05h7.6v7.6h-7.6zM606.29 224.99h7.6v7.6h-7.6zM613.13 241.96h7.6v7.6h-7.6zM619.98 207.47h7.6v7.6h-7.6zM626.82 224.99h7.6v7.6h-7.6zM633.66 181.19h7.6v7.6h-7.6zM640.51 204.19h7.6v7.6h-7.6zM647.36 170.24h7.6v7.6h-7.6z" fill="#2A9D8F"/>
<path d="M110.4 392.37L114.9 396.87L110.4 401.37L105.9 396.87zM117.25 392.37L121.75 396.87L117.25 401.37L112.75 396.87zM124.09 379.78L128.59 384.28L124.09 388.78L119.59 384.28zM130.94 384.71L135.44 389.21L130.94 393.71L126.44 389.21zM137.78 368.83L142.28 373.33L137.78 377.83L133.28 373.33zM144.62 375.95L149.12 380.45L144.62 384.95L140.12 380.45zM151.47 354.6L155.97 359.1L151.47 363.6L146.97 359.1zM158.31 363.9L162.81 368.4L158.31 372.9L153.81 368.4zM165.16 340.36L169.66 344.86L165.16 349.36L160.66 344.86zM172 350.76L176.5 355.26L172 359.76L167.5 355.26zM178.85 322.84L183.35 327.34L178.85 331.84L174.35 327.34zM185.69 335.98L190.19 340.48L185.69 344.98L181.19 340.48zM192.54 304.77L197.04 309.27L192.54 313.77L188.04 309.27zM199.38 321.2L203.88 325.7L199.38 330.2L194.88 325.7zM206.23 287.25L210.73 291.75L206.23 296.25L201.73 291.75zM213.07 307.51L217.57 312.01L213.07 316.51L208.57 312.01zM219.92 276.3L224.42 280.8L219.92 285.3L215.42 280.8zM226.76 300.39L231.26 304.89L226.76 309.39L222.26 304.89zM233.61 266.45L238.11 270.95L233.61 275.45L229.11 270.95zM240.46 289.44L244.96 293.94L240.46 298.44L235.96 293.94zM247.3 253.86L251.8 258.36L247.3 262.86L242.8 258.36zM254.15 277.94L258.64 282.44L254.15 286.94L249.65 282.44zM260.99 241.81L265.49 246.31L260.99 250.81L256.49 246.31zM267.84 267.54L272.34 272.04L267.84 276.54L263.34 272.04zM274.68 229.22L279.18 233.72L274.68 238.22L270.18 233.72zM281.52 255.5L286.02 260L281.52 264.5L277.02 260zM288.37 215.53L292.87 220.03L288.37 224.53L283.87 220.03zM295.22 244L299.72 248.5L295.22 253L290.72 248.5zM302.06 205.67L306.56 210.17L302.06 214.67L297.56 210.17zM308.9 236.34L313.4 240.84L308.9 245.34L304.4 240.84zM315.75 196.92L320.25 201.42L315.75 205.92L311.25 201.42zM322.6 230.86L327.1 235.36L322.6 239.86L318.1 235.36zM329.44 192.53L333.94 197.03L329.44 201.53L324.94 197.03zM336.28 225.39L340.78 229.89L336.28 234.39L331.78 229.89zM343.13 183.78L347.63 188.28L343.13 192.78L338.63 188.28zM349.98 215.53L354.48 220.03L349.98 224.53L345.48 220.03zM356.82 174.47L361.32 178.97L356.82 183.47L352.32 178.97zM363.66 208.41L368.16 212.91L363.66 217.41L359.16 212.91zM370.51 166.25L375.01 170.75L370.51 175.25L366.01 170.75zM377.36 200.75L381.86 205.25L377.36 209.75L372.86 205.25zM384.2 158.04L388.7 162.54L384.2 167.04L379.7 162.54zM391.04 193.63L395.54 198.13L391.04 202.63L386.54 198.13zM397.89 150.93L402.39 155.43L397.89 159.93L393.39 155.43zM404.74 191.44L409.24 195.94L404.74 200.44L400.24 195.94zM411.58 153.12L416.08 157.62L411.58 162.12L407.08 157.62zM418.42 199.1L422.92 203.6L418.42 208.1L413.92 203.6zM425.27 171.73L429.77 176.23L425.27 180.73L420.77 176.23zM432.12 222.65L436.62 227.15L432.12 231.65L427.62 227.15zM438.96 206.77L443.46 211.27L438.96 215.77L434.46 211.27zM445.8 253.86L450.3 258.36L445.8 262.86L441.3 258.36zM452.65 236.34L457.15 240.84L452.65 245.34L448.15 240.84zM459.5 276.85L464 281.35L459.5 285.85L455 281.35zM466.34 257.69L470.84 262.19L466.34 266.69L461.84 262.19zM473.18 298.75L477.68 303.25L473.18 307.75L468.68 303.25zM480.03 288.35L484.53 292.85L480.03 297.35L475.53 292.85zM486.88 326.12L491.38 330.62L486.88 335.12L482.38 330.62zM493.72 316.82L498.22 321.32L493.72 325.82L489.22 321.32zM500.56 348.57L505.06 353.07L500.56 357.57L496.06 353.07zM507.41 335.98L511.91 340.48L507.41 344.98L502.91 340.48zM514.25 361.17L518.75 365.67L514.25 370.17L509.75 365.67zM521.1 353.5L525.6 358L521.1 362.5L516.6 358zM527.94 373.21L532.44 377.71L527.94 382.21L523.44 377.71zM534.79 364.45L539.29 368.95L534.79 373.45L530.29 368.95zM541.63 383.61L546.13 388.11L541.63 392.61L537.13 388.11zM548.48 380.88L552.98 385.38L548.48 389.88L543.98 385.38zM555.33 391.82L559.83 396.32L555.33 400.82L550.83 396.32zM562.17 391.28L566.67 395.78L562.17 400.28L557.67 395.78zM569.01 395.66L573.51 400.16L569.01 404.66L564.51 400.16zM575.86 394.56L580.36 399.06L575.86 403.56L571.36 399.06zM582.71 395.11L587.21 399.61L582.71 404.11L578.21 399.61zM589.55 395.66L594.05 400.16L589.55 404.66L585.05 400.16zM596.39 390.18L600.89 394.68L596.39 399.18L591.89 394.68zM603.24 393.47L607.74 397.97L603.24 402.47L598.74 397.97zM610.09 384.16L614.59 388.66L610.09 393.16L605.59 388.66zM616.93 388.54L621.43 393.04L616.93 397.54L612.43 393.04zM623.77 373.76L628.27 378.26L623.77 382.76L619.27 378.26zM630.62 379.23L635.12 383.73L630.62 388.23L626.12 383.73zM637.46 359.52L641.96 364.02L637.46 368.52L632.96 364.02zM644.31 368.28L648.81 372.78L644.31 377.28L639.81 372.78zM651.15 346.93L655.65 351.43L651.15 355.93L646.65 351.43z" fill="#C1121F" stroke="#C1121F" stroke-width="1" stroke-linejoin="round"/>
</g>
<path d="M110.4 419V412.8M110.4 25.2V31.4M247.3 419V412.8M247.3 25.2V31.4M384.2 419V412.8M384.2 25.2V31.4M521.1 419V412.8M521.1 25.2V31.4M658 419V412.8M658 25.2V31.4M83 401.8H89.2M678.1 401.8H671.9M83 292.3H89.2M678.1 292.3H671.9M83 182.8H89.2M678.1 182.8H671.9M83 73.3H89.2M678.1 73.3H671.9" stroke="#000" stroke-width="1.8" fill="none"/>
<rect x="83" y="25.2" width="595.1" height="393.8" fill="none" stroke="#000" stroke-width="1.8"/>
<text x="110.4" y="443.2" class="tk" text-anchor="middle">0</text>
<text x="247.3" y="443.2" class="tk" text-anchor="middle">20</text>
<text x="384.2" y="443.2" class="tk" text-anchor="middle">40</text>
<text x="521.1" y="443.2" class="tk" text-anchor="middle">60</text>
<text x="658" y="443.2" class="tk" text-anchor="middle">80</text>
<text x="76" y="410.2" class="tk" text-anchor="end">0.00</text>
<text x="76" y="300.7" class="tk" text-anchor="end">0.02</text>
<text x="76" y="191.2" class="tk" text-anchor="end">0.04</text>
<text x="76" y="81.7" class="tk" text-anchor="end">0.06</text>
<clipPath id="cr"><rect x="818" y="25.3" width="595.1" height="393.7"/></clipPath>
<g clip-path="url(#cr)">
<polyline points="845.4,401.78 856.43,401.78 867.47,384.72 878.5,384.72 889.54,364.82 900.57,364.82 911.6,338.1 922.64,338.1 933.67,310.24 944.71,310.24 955.74,276.69 966.77,276.69 977.81,240.3 988.84,240.3 999.88,199.93 1010.91,199.93 1021.94,157.28 1032.98,157.28 1044.01,110.66 1055.05,110.66 1066.08,66.88 1077.11,66.88 1088.15,43 1099.18,43 1110.22,55.51 1121.25,55.51 1132.28,74.27 1143.32,74.27 1154.35,74.27 1165.39,74.27 1176.42,85.64 1187.45,85.64 1198.49,141.93 1209.52,141.93 1220.56,189.13 1231.59,189.13 1242.62,237.46 1253.66,237.46 1264.69,274.98 1275.73,274.98 1286.76,312.51 1297.79,312.51 1308.83,342.08 1319.86,342.08 1330.9,367.1 1341.93,367.1 1352.96,386.43 1364,386.43 1375.03,401.21 1386.07,401.21" fill="none" stroke="#0077BB" stroke-width="2.2" stroke-linejoin="round"/>
<polyline points="845.4,401.78 856.43,401.78 867.47,384.72 878.5,384.72 889.54,364.82 900.57,364.82 911.6,338.1 922.64,338.1 933.67,310.24 944.71,310.24 955.74,276.69 966.77,276.69 977.81,240.3 988.84,240.3 999.88,199.93 1010.91,199.93 1021.94,157.28 1032.98,157.28 1044.01,110.66 1055.05,110.66 1066.08,66.88 1077.11,66.88 1088.15,43 1099.18,43 1110.22,55.51 1121.25,55.51 1132.28,74.27 1143.32,74.27 1154.35,74.27 1165.39,74.27 1176.42,85.64 1187.45,85.64 1198.49,141.93 1209.52,141.93 1220.56,189.13 1231.59,189.13 1242.62,237.46 1253.66,237.46 1264.69,274.98 1275.73,274.98 1286.76,312.51 1297.79,312.51 1308.83,342.08 1319.86,342.08 1330.9,367.1 1341.93,367.1 1352.96,386.43 1364,386.43 1375.03,401.21 1386.07,401.21" fill="none" stroke="#FB4D06" stroke-width="2.2" stroke-linejoin="round"/>
<polyline points="845.4,401.78 856.43,401.78 867.47,384.72 878.5,384.72 889.54,364.82 900.57,364.82 911.6,338.1 922.64,338.1 933.67,310.24 944.71,310.24 955.74,276.69 966.77,276.69 977.81,240.3 988.84,240.3 999.88,199.93 1010.91,199.93 1021.94,157.28 1032.98,157.28 1044.01,110.66 1055.05,110.66 1066.08,66.88 1077.11,66.88 1088.15,43 1099.18,43 1110.22,55.51 1121.25,55.51 1132.28,74.27 1143.32,74.27 1154.35,74.27 1165.39,74.27 1176.42,85.64 1187.45,85.64 1198.49,141.93 1209.52,141.93 1220.56,189.13 1231.59,189.13 1242.62,237.46 1253.66,237.46 1264.69,274.98 1275.73,274.98 1286.76,312.51 1297.79,312.51 1308.83,342.08 1319.86,342.08 1330.9,367.1 1341.93,367.1 1352.96,386.43 1364,386.43 1375.03,401.21 1386.07,401.21" fill="none" stroke="#2A9D8F" stroke-width="2.2" stroke-linejoin="round"/>
<polyline points="845.4,401.78 856.43,401.78 867.47,384.72 878.5,384.72 889.54,364.82 900.57,364.82 911.6,338.1 922.64,338.1 933.67,310.24 944.71,310.24 955.74,276.69 966.77,276.69 977.81,240.3 988.84,240.3 999.88,199.93 1010.91,199.93 1021.94,157.28 1032.98,157.28 1044.01,110.66 1055.05,110.66 1066.08,66.88 1077.11,66.88 1088.15,43 1099.18,43 1110.22,55.51 1121.25,55.51 1132.28,74.27 1143.32,74.27 1154.35,74.27 1165.39,74.27 1176.42,85.64 1187.45,85.64 1198.49,141.93 1209.52,141.93 1220.56,189.13 1231.59,189.13 1242.62,237.46 1253.66,237.46 1264.69,274.98 1275.73,274.98 1286.76,312.51 1297.79,312.51 1308.83,342.08 1319.86,342.08 1330.9,367.1 1341.93,367.1 1352.96,386.43 1364,386.43 1375.03,401.21 1386.07,401.21" fill="none" stroke="#C1121F" stroke-width="2.2" stroke-linejoin="round"/>
<path d="M841.5 401.78a3.9 3.9 0 1 0 7.8 0a3.9 3.9 0 1 0 -7.8 0zM852.53 401.78a3.9 3.9 0 1 0 7.8 0a3.9 3.9 0 1 0 -7.8 0zM863.57 384.72a3.9 3.9 0 1 0 7.8 0a3.9 3.9 0 1 0 -7.8 0zM874.6 384.72a3.9 3.9 0 1 0 7.8 0a3.9 3.9 0 1 0 -7.8 0zM885.64 364.82a3.9 3.9 0 1 0 7.8 0a3.9 3.9 0 1 0 -7.8 0zM896.67 364.82a3.9 3.9 0 1 0 7.8 0a3.9 3.9 0 1 0 -7.8 0zM907.7 338.1a3.9 3.9 0 1 0 7.8 0a3.9 3.9 0 1 0 -7.8 0zM918.74 338.1a3.9 3.9 0 1 0 7.8 0a3.9 3.9 0 1 0 -7.8 0zM929.77 310.24a3.9 3.9 0 1 0 7.8 0a3.9 3.9 0 1 0 -7.8 0zM940.81 310.24a3.9 3.9 0 1 0 7.8 0a3.9 3.9 0 1 0 -7.8 0zM951.84 276.69a3.9 3.9 0 1 0 7.8 0a3.9 3.9 0 1 0 -7.8 0zM962.87 276.69a3.9 3.9 0 1 0 7.8 0a3.9 3.9 0 1 0 -7.8 0zM973.91 240.3a3.9 3.9 0 1 0 7.8 0a3.9 3.9 0 1 0 -7.8 0zM984.94 240.3a3.9 3.9 0 1 0 7.8 0a3.9 3.9 0 1 0 -7.8 0zM995.98 199.93a3.9 3.9 0 1 0 7.8 0a3.9 3.9 0 1 0 -7.8 0zM1007.01 199.93a3.9 3.9 0 1 0 7.8 0a3.9 3.9 0 1 0 -7.8 0zM1018.04 157.28a3.9 3.9 0 1 0 7.8 0a3.9 3.9 0 1 0 -7.8 0zM1029.08 157.28a3.9 3.9 0 1 0 7.8 0a3.9 3.9 0 1 0 -7.8 0zM1040.11 110.66a3.9 3.9 0 1 0 7.8 0a3.9 3.9 0 1 0 -7.8 0zM1051.15 110.66a3.9 3.9 0 1 0 7.8 0a3.9 3.9 0 1 0 -7.8 0zM1062.18 66.88a3.9 3.9 0 1 0 7.8 0a3.9 3.9 0 1 0 -7.8 0zM1073.21 66.88a3.9 3.9 0 1 0 7.8 0a3.9 3.9 0 1 0 -7.8 0zM1084.25 43a3.9 3.9 0 1 0 7.8 0a3.9 3.9 0 1 0 -7.8 0zM1095.28 43a3.9 3.9 0 1 0 7.8 0a3.9 3.9 0 1 0 -7.8 0zM1106.32 55.51a3.9 3.9 0 1 0 7.8 0a3.9 3.9 0 1 0 -7.8 0zM1117.35 55.51a3.9 3.9 0 1 0 7.8 0a3.9 3.9 0 1 0 -7.8 0zM1128.38 74.27a3.9 3.9 0 1 0 7.8 0a3.9 3.9 0 1 0 -7.8 0zM1139.42 74.27a3.9 3.9 0 1 0 7.8 0a3.9 3.9 0 1 0 -7.8 0zM1150.45 74.27a3.9 3.9 0 1 0 7.8 0a3.9 3.9 0 1 0 -7.8 0zM1161.49 74.27a3.9 3.9 0 1 0 7.8 0a3.9 3.9 0 1 0 -7.8 0zM1172.52 85.64a3.9 3.9 0 1 0 7.8 0a3.9 3.9 0 1 0 -7.8 0zM1183.55 85.64a3.9 3.9 0 1 0 7.8 0a3.9 3.9 0 1 0 -7.8 0zM1194.59 141.93a3.9 3.9 0 1 0 7.8 0a3.9 3.9 0 1 0 -7.8 0zM1205.62 141.93a3.9 3.9 0 1 0 7.8 0a3.9 3.9 0 1 0 -7.8 0zM1216.66 189.13a3.9 3.9 0 1 0 7.8 0a3.9 3.9 0 1 0 -7.8 0zM1227.69 189.13a3.9 3.9 0 1 0 7.8 0a3.9 3.9 0 1 0 -7.8 0zM1238.72 237.46a3.9 3.9 0 1 0 7.8 0a3.9 3.9 0 1 0 -7.8 0zM1249.76 237.46a3.9 3.9 0 1 0 7.8 0a3.9 3.9 0 1 0 -7.8 0zM1260.79 274.98a3.9 3.9 0 1 0 7.8 0a3.9 3.9 0 1 0 -7.8 0zM1271.83 274.98a3.9 3.9 0 1 0 7.8 0a3.9 3.9 0 1 0 -7.8 0zM1282.86 312.51a3.9 3.9 0 1 0 7.8 0a3.9 3.9 0 1 0 -7.8 0zM1293.89 312.51a3.9 3.9 0 1 0 7.8 0a3.9 3.9 0 1 0 -7.8 0zM1304.93 342.08a3.9 3.9 0 1 0 7.8 0a3.9 3.9 0 1 0 -7.8 0zM1315.96 342.08a3.9 3.9 0 1 0 7.8 0a3.9 3.9 0 1 0 -7.8 0zM1327 367.1a3.9 3.9 0 1 0 7.8 0a3.9 3.9 0 1 0 -7.8 0zM1338.03 367.1a3.9 3.9 0 1 0 7.8 0a3.9 3.9 0 1 0 -7.8 0zM1349.06 386.43a3.9 3.9 0 1 0 7.8 0a3.9 3.9 0 1 0 -7.8 0zM1360.1 386.43a3.9 3.9 0 1 0 7.8 0a3.9 3.9 0 1 0 -7.8 0zM1371.13 401.21a3.9 3.9 0 1 0 7.8 0a3.9 3.9 0 1 0 -7.8 0zM1382.17 401.21a3.9 3.9 0 1 0 7.8 0a3.9 3.9 0 1 0 -7.8 0zM841.6 397.98H849.2L845.4 405.58zM852.63 397.98H860.23L856.43 405.58zM863.67 380.92H871.27L867.47 388.52zM874.7 380.92H882.3L878.5 388.52zM885.74 361.02H893.34L889.54 368.62zM896.77 361.02H904.37L900.57 368.62zM907.8 334.3H915.4L911.6 341.9zM918.84 334.3H926.44L922.64 341.9zM929.87 306.44H937.47L933.67 314.04zM940.91 306.44H948.51L944.71 314.04zM951.94 272.89H959.54L955.74 280.49zM962.97 272.89H970.57L966.77 280.49zM974.01 236.5H981.61L977.81 244.1zM985.04 236.5H992.64L988.84 244.1zM996.08 196.13H1003.68L999.88 203.73zM1007.11 196.13H1014.71L1010.91 203.73zM1018.14 153.48H1025.74L1021.94 161.08zM1029.18 153.48H1036.78L1032.98 161.08zM1040.21 106.86H1047.81L1044.01 114.46zM1051.25 106.86H1058.85L1055.05 114.46zM1062.28 63.08H1069.88L1066.08 70.68zM1073.31 63.08H1080.91L1077.11 70.68zM1084.35 39.2H1091.95L1088.15 46.8zM1095.38 39.2H1102.98L1099.18 46.8zM1106.42 51.71H1114.02L1110.22 59.31zM1117.45 51.71H1125.05L1121.25 59.31zM1128.48 70.47H1136.08L1132.28 78.07zM1139.52 70.47H1147.12L1143.32 78.07zM1150.55 70.47H1158.15L1154.35 78.07zM1161.59 70.47H1169.19L1165.39 78.07zM1172.62 81.84H1180.22L1176.42 89.44zM1183.65 81.84H1191.25L1187.45 89.44zM1194.69 138.13H1202.29L1198.49 145.73zM1205.72 138.13H1213.32L1209.52 145.73zM1216.76 185.33H1224.36L1220.56 192.93zM1227.79 185.33H1235.39L1231.59 192.93zM1238.82 233.66H1246.42L1242.62 241.26zM1249.86 233.66H1257.46L1253.66 241.26zM1260.89 271.18H1268.49L1264.69 278.78zM1271.93 271.18H1279.53L1275.73 278.78zM1282.96 308.71H1290.56L1286.76 316.31zM1293.99 308.71H1301.59L1297.79 316.31zM1305.03 338.28H1312.63L1308.83 345.88zM1316.06 338.28H1323.66L1319.86 345.88zM1327.1 363.3H1334.7L1330.9 370.9zM1338.13 363.3H1345.73L1341.93 370.9zM1349.16 382.63H1356.76L1352.96 390.23zM1360.2 382.63H1367.8L1364 390.23zM1371.23 397.41H1378.83L1375.03 405.01zM1382.27 397.41H1389.87L1386.07 405.01zM841.6 397.98h7.6v7.6h-7.6zM852.63 397.98h7.6v7.6h-7.6zM863.67 380.92h7.6v7.6h-7.6zM874.7 380.92h7.6v7.6h-7.6zM885.74 361.02h7.6v7.6h-7.6zM896.77 361.02h7.6v7.6h-7.6zM907.8 334.3h7.6v7.6h-7.6zM918.84 334.3h7.6v7.6h-7.6zM929.87 306.44h7.6v7.6h-7.6zM940.91 306.44h7.6v7.6h-7.6zM951.94 272.89h7.6v7.6h-7.6zM962.97 272.89h7.6v7.6h-7.6zM974.01 236.5h7.6v7.6h-7.6zM985.04 236.5h7.6v7.6h-7.6zM996.08 196.13h7.6v7.6h-7.6zM1007.11 196.13h7.6v7.6h-7.6zM1018.14 153.48h7.6v7.6h-7.6zM1029.18 153.48h7.6v7.6h-7.6zM1040.21 106.86h7.6v7.6h-7.6zM1051.25 106.86h7.6v7.6h-7.6zM1062.28 63.08h7.6v7.6h-7.6zM1073.31 63.08h7.6v7.6h-7.6zM1084.35 39.2h7.6v7.6h-7.6zM1095.38 39.2h7.6v7.6h-7.6zM1106.42 51.71h7.6v7.6h-7.6zM1117.45 51.71h7.6v7.6h-7.6zM1128.48 70.47h7.6v7.6h-7.6zM1139.52 70.47h7.6v7.6h-7.6zM1150.55 70.47h7.6v7.6h-7.6zM1161.59 70.47h7.6v7.6h-7.6zM1172.62 81.84h7.6v7.6h-7.6zM1183.65 81.84h7.6v7.6h-7.6zM1194.69 138.13h7.6v7.6h-7.6zM1205.72 138.13h7.6v7.6h-7.6zM1216.76 185.33h7.6v7.6h-7.6zM1227.79 185.33h7.6v7.6h-7.6zM1238.82 233.66h7.6v7.6h-7.6zM1249.86 233.66h7.6v7.6h-7.6zM1260.89 271.18h7.6v7.6h-7.6zM1271.93 271.18h7.6v7.6h-7.6zM1282.96 308.71h7.6v7.6h-7.6zM1293.99 308.71h7.6v7.6h-7.6zM1305.03 338.28h7.6v7.6h-7.6zM1316.06 338.28h7.6v7.6h-7.6zM1327.1 363.3h7.6v7.6h-7.6zM1338.13 363.3h7.6v7.6h-7.6zM1349.16 382.63h7.6v7.6h-7.6zM1360.2 382.63h7.6v7.6h-7.6zM1371.23 397.41h7.6v7.6h-7.6zM1382.27 397.41h7.6v7.6h-7.6zM845.4 397.28L849.9 401.78L845.4 406.28L840.9 401.78zM856.43 397.28L860.93 401.78L856.43 406.28L851.93 401.78zM867.47 380.22L871.97 384.72L867.47 389.22L862.97 384.72zM878.5 380.22L883 384.72L878.5 389.22L874 384.72zM889.54 360.32L894.04 364.82L889.54 369.32L885.04 364.82zM900.57 360.32L905.07 364.82L900.57 369.32L896.07 364.82zM911.6 333.6L916.1 338.1L911.6 342.6L907.1 338.1zM922.64 333.6L927.14 338.1L922.64 342.6L918.14 338.1zM933.67 305.74L938.17 310.24L933.67 314.74L929.17 310.24zM944.71 305.74L949.21 310.24L944.71 314.74L940.21 310.24zM955.74 272.19L960.24 276.69L955.74 281.19L951.24 276.69zM966.77 272.19L971.27 276.69L966.77 281.19L962.27 276.69zM977.81 235.8L982.31 240.3L977.81 244.8L973.31 240.3zM988.84 235.8L993.34 240.3L988.84 244.8L984.34 240.3zM999.88 195.43L1004.38 199.93L999.88 204.43L995.38 199.93zM1010.91 195.43L1015.41 199.93L1010.91 204.43L1006.41 199.93zM1021.94 152.78L1026.44 157.28L1021.94 161.78L1017.44 157.28zM1032.98 152.78L1037.48 157.28L1032.98 161.78L1028.48 157.28zM1044.01 106.16L1048.51 110.66L1044.01 115.16L1039.51 110.66zM1055.05 106.16L1059.55 110.66L1055.05 115.16L1050.55 110.66zM1066.08 62.38L1070.58 66.88L1066.08 71.38L1061.58 66.88zM1077.11 62.38L1081.61 66.88L1077.11 71.38L1072.61 66.88zM1088.15 38.5L1092.65 43L1088.15 47.5L1083.65 43zM1099.18 38.5L1103.68 43L1099.18 47.5L1094.68 43zM1110.22 51.01L1114.72 55.51L1110.22 60.01L1105.72 55.51zM1121.25 51.01L1125.75 55.51L1121.25 60.01L1116.75 55.51zM1132.28 69.77L1136.78 74.27L1132.28 78.77L1127.78 74.27zM1143.32 69.77L1147.82 74.27L1143.32 78.77L1138.82 74.27zM1154.35 69.77L1158.85 74.27L1154.35 78.77L1149.85 74.27zM1165.39 69.77L1169.89 74.27L1165.39 78.77L1160.89 74.27zM1176.42 81.14L1180.92 85.64L1176.42 90.14L1171.92 85.64zM1187.45 81.14L1191.95 85.64L1187.45 90.14L1182.95 85.64zM1198.49 137.43L1202.99 141.93L1198.49 146.43L1193.99 141.93zM1209.52 137.43L1214.02 141.93L1209.52 146.43L1205.02 141.93zM1220.56 184.63L1225.06 189.13L1220.56 193.63L1216.06 189.13zM1231.59 184.63L1236.09 189.13L1231.59 193.63L1227.09 189.13zM1242.62 232.96L1247.12 237.46L1242.62 241.96L1238.12 237.46zM1253.66 232.96L1258.16 237.46L1253.66 241.96L1249.16 237.46zM1264.69 270.48L1269.19 274.98L1264.69 279.48L1260.19 274.98zM1275.73 270.48L1280.23 274.98L1275.73 279.48L1271.23 274.98zM1286.76 308.01L1291.26 312.51L1286.76 317.01L1282.26 312.51zM1297.79 308.01L1302.29 312.51L1297.79 317.01L1293.29 312.51zM1308.83 337.58L1313.33 342.08L1308.83 346.58L1304.33 342.08zM1319.86 337.58L1324.36 342.08L1319.86 346.58L1315.36 342.08zM1330.9 362.6L1335.4 367.1L1330.9 371.6L1326.4 367.1zM1341.93 362.6L1346.43 367.1L1341.93 371.6L1337.43 367.1zM1352.96 381.93L1357.46 386.43L1352.96 390.93L1348.46 386.43zM1364 381.93L1368.5 386.43L1364 390.93L1359.5 386.43zM1375.03 396.71L1379.53 401.21L1375.03 405.71L1370.53 401.21zM1386.07 396.71L1390.57 401.21L1386.07 405.71L1381.57 401.21z" fill="#fff" stroke="#fff" stroke-width="5.6" stroke-linejoin="round"/>
<path d="M841.5 401.78a3.9 3.9 0 1 0 7.8 0a3.9 3.9 0 1 0 -7.8 0zM852.53 401.78a3.9 3.9 0 1 0 7.8 0a3.9 3.9 0 1 0 -7.8 0zM863.57 384.72a3.9 3.9 0 1 0 7.8 0a3.9 3.9 0 1 0 -7.8 0zM874.6 384.72a3.9 3.9 0 1 0 7.8 0a3.9 3.9 0 1 0 -7.8 0zM885.64 364.82a3.9 3.9 0 1 0 7.8 0a3.9 3.9 0 1 0 -7.8 0zM896.67 364.82a3.9 3.9 0 1 0 7.8 0a3.9 3.9 0 1 0 -7.8 0zM907.7 338.1a3.9 3.9 0 1 0 7.8 0a3.9 3.9 0 1 0 -7.8 0zM918.74 338.1a3.9 3.9 0 1 0 7.8 0a3.9 3.9 0 1 0 -7.8 0zM929.77 310.24a3.9 3.9 0 1 0 7.8 0a3.9 3.9 0 1 0 -7.8 0zM940.81 310.24a3.9 3.9 0 1 0 7.8 0a3.9 3.9 0 1 0 -7.8 0zM951.84 276.69a3.9 3.9 0 1 0 7.8 0a3.9 3.9 0 1 0 -7.8 0zM962.87 276.69a3.9 3.9 0 1 0 7.8 0a3.9 3.9 0 1 0 -7.8 0zM973.91 240.3a3.9 3.9 0 1 0 7.8 0a3.9 3.9 0 1 0 -7.8 0zM984.94 240.3a3.9 3.9 0 1 0 7.8 0a3.9 3.9 0 1 0 -7.8 0zM995.98 199.93a3.9 3.9 0 1 0 7.8 0a3.9 3.9 0 1 0 -7.8 0zM1007.01 199.93a3.9 3.9 0 1 0 7.8 0a3.9 3.9 0 1 0 -7.8 0zM1018.04 157.28a3.9 3.9 0 1 0 7.8 0a3.9 3.9 0 1 0 -7.8 0zM1029.08 157.28a3.9 3.9 0 1 0 7.8 0a3.9 3.9 0 1 0 -7.8 0zM1040.11 110.66a3.9 3.9 0 1 0 7.8 0a3.9 3.9 0 1 0 -7.8 0zM1051.15 110.66a3.9 3.9 0 1 0 7.8 0a3.9 3.9 0 1 0 -7.8 0zM1062.18 66.88a3.9 3.9 0 1 0 7.8 0a3.9 3.9 0 1 0 -7.8 0zM1073.21 66.88a3.9 3.9 0 1 0 7.8 0a3.9 3.9 0 1 0 -7.8 0zM1084.25 43a3.9 3.9 0 1 0 7.8 0a3.9 3.9 0 1 0 -7.8 0zM1095.28 43a3.9 3.9 0 1 0 7.8 0a3.9 3.9 0 1 0 -7.8 0zM1106.32 55.51a3.9 3.9 0 1 0 7.8 0a3.9 3.9 0 1 0 -7.8 0zM1117.35 55.51a3.9 3.9 0 1 0 7.8 0a3.9 3.9 0 1 0 -7.8 0zM1128.38 74.27a3.9 3.9 0 1 0 7.8 0a3.9 3.9 0 1 0 -7.8 0zM1139.42 74.27a3.9 3.9 0 1 0 7.8 0a3.9 3.9 0 1 0 -7.8 0zM1150.45 74.27a3.9 3.9 0 1 0 7.8 0a3.9 3.9 0 1 0 -7.8 0zM1161.49 74.27a3.9 3.9 0 1 0 7.8 0a3.9 3.9 0 1 0 -7.8 0zM1172.52 85.64a3.9 3.9 0 1 0 7.8 0a3.9 3.9 0 1 0 -7.8 0zM1183.55 85.64a3.9 3.9 0 1 0 7.8 0a3.9 3.9 0 1 0 -7.8 0zM1194.59 141.93a3.9 3.9 0 1 0 7.8 0a3.9 3.9 0 1 0 -7.8 0zM1205.62 141.93a3.9 3.9 0 1 0 7.8 0a3.9 3.9 0 1 0 -7.8 0zM1216.66 189.13a3.9 3.9 0 1 0 7.8 0a3.9 3.9 0 1 0 -7.8 0zM1227.69 189.13a3.9 3.9 0 1 0 7.8 0a3.9 3.9 0 1 0 -7.8 0zM1238.72 237.46a3.9 3.9 0 1 0 7.8 0a3.9 3.9 0 1 0 -7.8 0zM1249.76 237.46a3.9 3.9 0 1 0 7.8 0a3.9 3.9 0 1 0 -7.8 0zM1260.79 274.98a3.9 3.9 0 1 0 7.8 0a3.9 3.9 0 1 0 -7.8 0zM1271.83 274.98a3.9 3.9 0 1 0 7.8 0a3.9 3.9 0 1 0 -7.8 0zM1282.86 312.51a3.9 3.9 0 1 0 7.8 0a3.9 3.9 0 1 0 -7.8 0zM1293.89 312.51a3.9 3.9 0 1 0 7.8 0a3.9 3.9 0 1 0 -7.8 0zM1304.93 342.08a3.9 3.9 0 1 0 7.8 0a3.9 3.9 0 1 0 -7.8 0zM1315.96 342.08a3.9 3.9 0 1 0 7.8 0a3.9 3.9 0 1 0 -7.8 0zM1327 367.1a3.9 3.9 0 1 0 7.8 0a3.9 3.9 0 1 0 -7.8 0zM1338.03 367.1a3.9 3.9 0 1 0 7.8 0a3.9 3.9 0 1 0 -7.8 0zM1349.06 386.43a3.9 3.9 0 1 0 7.8 0a3.9 3.9 0 1 0 -7.8 0zM1360.1 386.43a3.9 3.9 0 1 0 7.8 0a3.9 3.9 0 1 0 -7.8 0zM1371.13 401.21a3.9 3.9 0 1 0 7.8 0a3.9 3.9 0 1 0 -7.8 0zM1382.17 401.21a3.9 3.9 0 1 0 7.8 0a3.9 3.9 0 1 0 -7.8 0z" fill="#0077BB"/>
<path d="M841.6 397.98H849.2L845.4 405.58zM852.63 397.98H860.23L856.43 405.58zM863.67 380.92H871.27L867.47 388.52zM874.7 380.92H882.3L878.5 388.52zM885.74 361.02H893.34L889.54 368.62zM896.77 361.02H904.37L900.57 368.62zM907.8 334.3H915.4L911.6 341.9zM918.84 334.3H926.44L922.64 341.9zM929.87 306.44H937.47L933.67 314.04zM940.91 306.44H948.51L944.71 314.04zM951.94 272.89H959.54L955.74 280.49zM962.97 272.89H970.57L966.77 280.49zM974.01 236.5H981.61L977.81 244.1zM985.04 236.5H992.64L988.84 244.1zM996.08 196.13H1003.68L999.88 203.73zM1007.11 196.13H1014.71L1010.91 203.73zM1018.14 153.48H1025.74L1021.94 161.08zM1029.18 153.48H1036.78L1032.98 161.08zM1040.21 106.86H1047.81L1044.01 114.46zM1051.25 106.86H1058.85L1055.05 114.46zM1062.28 63.08H1069.88L1066.08 70.68zM1073.31 63.08H1080.91L1077.11 70.68zM1084.35 39.2H1091.95L1088.15 46.8zM1095.38 39.2H1102.98L1099.18 46.8zM1106.42 51.71H1114.02L1110.22 59.31zM1117.45 51.71H1125.05L1121.25 59.31zM1128.48 70.47H1136.08L1132.28 78.07zM1139.52 70.47H1147.12L1143.32 78.07zM1150.55 70.47H1158.15L1154.35 78.07zM1161.59 70.47H1169.19L1165.39 78.07zM1172.62 81.84H1180.22L1176.42 89.44zM1183.65 81.84H1191.25L1187.45 89.44zM1194.69 138.13H1202.29L1198.49 145.73zM1205.72 138.13H1213.32L1209.52 145.73zM1216.76 185.33H1224.36L1220.56 192.93zM1227.79 185.33H1235.39L1231.59 192.93zM1238.82 233.66H1246.42L1242.62 241.26zM1249.86 233.66H1257.46L1253.66 241.26zM1260.89 271.18H1268.49L1264.69 278.78zM1271.93 271.18H1279.53L1275.73 278.78zM1282.96 308.71H1290.56L1286.76 316.31zM1293.99 308.71H1301.59L1297.79 316.31zM1305.03 338.28H1312.63L1308.83 345.88zM1316.06 338.28H1323.66L1319.86 345.88zM1327.1 363.3H1334.7L1330.9 370.9zM1338.13 363.3H1345.73L1341.93 370.9zM1349.16 382.63H1356.76L1352.96 390.23zM1360.2 382.63H1367.8L1364 390.23zM1371.23 397.41H1378.83L1375.03 405.01zM1382.27 397.41H1389.87L1386.07 405.01z" fill="#FF5A12"/>
<path d="M841.6 397.98h7.6v7.6h-7.6zM852.63 397.98h7.6v7.6h-7.6zM863.67 380.92h7.6v7.6h-7.6zM874.7 380.92h7.6v7.6h-7.6zM885.74 361.02h7.6v7.6h-7.6zM896.77 361.02h7.6v7.6h-7.6zM907.8 334.3h7.6v7.6h-7.6zM918.84 334.3h7.6v7.6h-7.6zM929.87 306.44h7.6v7.6h-7.6zM940.91 306.44h7.6v7.6h-7.6zM951.94 272.89h7.6v7.6h-7.6zM962.97 272.89h7.6v7.6h-7.6zM974.01 236.5h7.6v7.6h-7.6zM985.04 236.5h7.6v7.6h-7.6zM996.08 196.13h7.6v7.6h-7.6zM1007.11 196.13h7.6v7.6h-7.6zM1018.14 153.48h7.6v7.6h-7.6zM1029.18 153.48h7.6v7.6h-7.6zM1040.21 106.86h7.6v7.6h-7.6zM1051.25 106.86h7.6v7.6h-7.6zM1062.28 63.08h7.6v7.6h-7.6zM1073.31 63.08h7.6v7.6h-7.6zM1084.35 39.2h7.6v7.6h-7.6zM1095.38 39.2h7.6v7.6h-7.6zM1106.42 51.71h7.6v7.6h-7.6zM1117.45 51.71h7.6v7.6h-7.6zM1128.48 70.47h7.6v7.6h-7.6zM1139.52 70.47h7.6v7.6h-7.6zM1150.55 70.47h7.6v7.6h-7.6zM1161.59 70.47h7.6v7.6h-7.6zM1172.62 81.84h7.6v7.6h-7.6zM1183.65 81.84h7.6v7.6h-7.6zM1194.69 138.13h7.6v7.6h-7.6zM1205.72 138.13h7.6v7.6h-7.6zM1216.76 185.33h7.6v7.6h-7.6zM1227.79 185.33h7.6v7.6h-7.6zM1238.82 233.66h7.6v7.6h-7.6zM1249.86 233.66h7.6v7.6h-7.6zM1260.89 271.18h7.6v7.6h-7.6zM1271.93 271.18h7.6v7.6h-7.6zM1282.96 308.71h7.6v7.6h-7.6zM1293.99 308.71h7.6v7.6h-7.6zM1305.03 338.28h7.6v7.6h-7.6zM1316.06 338.28h7.6v7.6h-7.6zM1327.1 363.3h7.6v7.6h-7.6zM1338.13 363.3h7.6v7.6h-7.6zM1349.16 382.63h7.6v7.6h-7.6zM1360.2 382.63h7.6v7.6h-7.6zM1371.23 397.41h7.6v7.6h-7.6zM1382.27 397.41h7.6v7.6h-7.6z" fill="#2A9D8F"/>
<path d="M845.4 397.28L849.9 401.78L845.4 406.28L840.9 401.78zM856.43 397.28L860.93 401.78L856.43 406.28L851.93 401.78zM867.47 380.22L871.97 384.72L867.47 389.22L862.97 384.72zM878.5 380.22L883 384.72L878.5 389.22L874 384.72zM889.54 360.32L894.04 364.82L889.54 369.32L885.04 364.82zM900.57 360.32L905.07 364.82L900.57 369.32L896.07 364.82zM911.6 333.6L916.1 338.1L911.6 342.6L907.1 338.1zM922.64 333.6L927.14 338.1L922.64 342.6L918.14 338.1zM933.67 305.74L938.17 310.24L933.67 314.74L929.17 310.24zM944.71 305.74L949.21 310.24L944.71 314.74L940.21 310.24zM955.74 272.19L960.24 276.69L955.74 281.19L951.24 276.69zM966.77 272.19L971.27 276.69L966.77 281.19L962.27 276.69zM977.81 235.8L982.31 240.3L977.81 244.8L973.31 240.3zM988.84 235.8L993.34 240.3L988.84 244.8L984.34 240.3zM999.88 195.43L1004.38 199.93L999.88 204.43L995.38 199.93zM1010.91 195.43L1015.41 199.93L1010.91 204.43L1006.41 199.93zM1021.94 152.78L1026.44 157.28L1021.94 161.78L1017.44 157.28zM1032.98 152.78L1037.48 157.28L1032.98 161.78L1028.48 157.28zM1044.01 106.16L1048.51 110.66L1044.01 115.16L1039.51 110.66zM1055.05 106.16L1059.55 110.66L1055.05 115.16L1050.55 110.66zM1066.08 62.38L1070.58 66.88L1066.08 71.38L1061.58 66.88zM1077.11 62.38L1081.61 66.88L1077.11 71.38L1072.61 66.88zM1088.15 38.5L1092.65 43L1088.15 47.5L1083.65 43zM1099.18 38.5L1103.68 43L1099.18 47.5L1094.68 43zM1110.22 51.01L1114.72 55.51L1110.22 60.01L1105.72 55.51zM1121.25 51.01L1125.75 55.51L1121.25 60.01L1116.75 55.51zM1132.28 69.77L1136.78 74.27L1132.28 78.77L1127.78 74.27zM1143.32 69.77L1147.82 74.27L1143.32 78.77L1138.82 74.27zM1154.35 69.77L1158.85 74.27L1154.35 78.77L1149.85 74.27zM1165.39 69.77L1169.89 74.27L1165.39 78.77L1160.89 74.27zM1176.42 81.14L1180.92 85.64L1176.42 90.14L1171.92 85.64zM1187.45 81.14L1191.95 85.64L1187.45 90.14L1182.95 85.64zM1198.49 137.43L1202.99 141.93L1198.49 146.43L1193.99 141.93zM1209.52 137.43L1214.02 141.93L1209.52 146.43L1205.02 141.93zM1220.56 184.63L1225.06 189.13L1220.56 193.63L1216.06 189.13zM1231.59 184.63L1236.09 189.13L1231.59 193.63L1227.09 189.13zM1242.62 232.96L1247.12 237.46L1242.62 241.96L1238.12 237.46zM1253.66 232.96L1258.16 237.46L1253.66 241.96L1249.16 237.46zM1264.69 270.48L1269.19 274.98L1264.69 279.48L1260.19 274.98zM1275.73 270.48L1280.23 274.98L1275.73 279.48L1271.23 274.98zM1286.76 308.01L1291.26 312.51L1286.76 317.01L1282.26 312.51zM1297.79 308.01L1302.29 312.51L1297.79 317.01L1293.29 312.51zM1308.83 337.58L1313.33 342.08L1308.83 346.58L1304.33 342.08zM1319.86 337.58L1324.36 342.08L1319.86 346.58L1315.36 342.08zM1330.9 362.6L1335.4 367.1L1330.9 371.6L1326.4 367.1zM1341.93 362.6L1346.43 367.1L1341.93 371.6L1337.43 367.1zM1352.96 381.93L1357.46 386.43L1352.96 390.93L1348.46 386.43zM1364 381.93L1368.5 386.43L1364 390.93L1359.5 386.43zM1375.03 396.71L1379.53 401.21L1375.03 405.71L1370.53 401.21zM1386.07 396.71L1390.57 401.21L1386.07 405.71L1381.57 401.21z" fill="#C1121F" stroke="#C1121F" stroke-width="1" stroke-linejoin="round"/>
</g>
<path d="M845.4 419V412.8M845.4 25.3V31.5M955.74 419V412.8M955.74 25.3V31.5M1066.08 419V412.8M1066.08 25.3V31.5M1176.42 419V412.8M1176.42 25.3V31.5M1286.76 419V412.8M1286.76 25.3V31.5M1397.1 419V412.8M1397.1 25.3V31.5M818 406.9H824.2M1413.1 406.9H1406.9M818 350.04H824.2M1413.1 350.04H1406.9M818 293.18H824.2M1413.1 293.18H1406.9M818 236.32H824.2M1413.1 236.32H1406.9M818 179.46H824.2M1413.1 179.46H1406.9M818 122.6H824.2M1413.1 122.6H1406.9M818 65.74H824.2M1413.1 65.74H1406.9" stroke="#000" stroke-width="1.8" fill="none"/>
<rect x="818" y="25.3" width="595.1" height="393.7" fill="none" stroke="#000" stroke-width="1.8"/>
<text x="845.4" y="443.2" class="tk" text-anchor="middle">0</text>
<text x="955.74" y="443.2" class="tk" text-anchor="middle">10</text>
<text x="1066.08" y="443.2" class="tk" text-anchor="middle">20</text>
<text x="1176.42" y="443.2" class="tk" text-anchor="middle">30</text>
<text x="1286.76" y="443.2" class="tk" text-anchor="middle">40</text>
<text x="1397.1" y="443.2" class="tk" text-anchor="middle">50</text>
<text x="811" y="415.3" class="tk" text-anchor="end">0.00</text>
<text x="811" y="358.44" class="tk" text-anchor="end">0.01</text>
<text x="811" y="301.58" class="tk" text-anchor="end">0.02</text>
<text x="811" y="244.72" class="tk" text-anchor="end">0.03</text>
<text x="811" y="187.86" class="tk" text-anchor="end">0.04</text>
<text x="811" y="131" class="tk" text-anchor="end">0.05</text>
<text x="811" y="74.14" class="tk" text-anchor="end">0.06</text>
<text x="418.9" y="65.6" class="lgt" textLength="162.5">Target Points &amp; Layer</text>
<path d="M433.2 85.5H470.8" stroke="#0077BB" stroke-width="2.3"/>
<path d="M446.4 85.5a5.3 5.3 0 1 0 10.6 0a5.3 5.3 0 1 0 -10.6 0z" fill="#0077BB"/>
<text x="484.1" y="91.1" class="lg" textLength="72">[6, 8] &amp; 0</text>
<path d="M433.2 112H470.8" stroke="#FB4D06" stroke-width="2.3"/>
<path d="M445.8 106.1H457.6L451.7 117.9z" fill="#FF5A12"/>
<text x="484.1" y="117.6" class="lg" textLength="71.5">[8, 9] &amp; 1</text>
<path d="M433.2 138.5H470.8" stroke="#2A9D8F" stroke-width="2.3"/>
<path d="M446.5 133.3h10.4v10.4h-10.4z" fill="#2A9D8F"/>
<text x="484.1" y="144.1" class="lg" textLength="81">[12, 5] &amp; 2</text>
<path d="M433.2 165H470.8" stroke="#C1121F" stroke-width="2.3"/>
<path d="M451.7 157.5L458.7 165L451.7 172.5L444.7 165z" fill="#C1121F"/>
<text x="484.1" y="170.6" class="lg" textLength="81">[15, 5] &amp; 3</text>
<text x="1234.2" y="53.9" class="lgt" textLength="162.5">Target Points &amp; Layer</text>
<path d="M1248.75 73H1286.35" stroke="#0077BB" stroke-width="2.3"/>
<path d="M1261.95 73a5.3 5.3 0 1 0 10.6 0a5.3 5.3 0 1 0 -10.6 0z" fill="#0077BB"/>
<text x="1299.65" y="78.6" class="lg" textLength="72">[6, 8] &amp; 0</text>
<path d="M1248.75 99.5H1286.35" stroke="#FB4D06" stroke-width="2.3"/>
<path d="M1261.35 93.6H1273.15L1267.25 105.4z" fill="#FF5A12"/>
<text x="1299.65" y="105.1" class="lg" textLength="71.5">[8, 9] &amp; 1</text>
<path d="M1248.75 126H1286.35" stroke="#2A9D8F" stroke-width="2.3"/>
<path d="M1262.05 120.8h10.4v10.4h-10.4z" fill="#2A9D8F"/>
<text x="1299.65" y="131.6" class="lg" textLength="81">[12, 5] &amp; 2</text>
<path d="M1248.75 152.5H1286.35" stroke="#C1121F" stroke-width="2.3"/>
<path d="M1267.25 145L1274.25 152.5L1267.25 160L1260.25 152.5z" fill="#C1121F"/>
<text x="1299.65" y="158.1" class="lg" textLength="81">[15, 5] &amp; 3</text>
<text x="83.4" y="14.3" class="ttl" textLength="219">Open boundary condition</text>
<text x="818.5" y="14.7" class="ttl" textLength="242">Periodic boundary condition</text>
<text x="381.5" y="474.8" class="al" text-anchor="middle" textLength="174">number of steps</text>
<text x="1116.5" y="474.8" class="al" text-anchor="middle" textLength="174">number of steps</text>
<text transform="translate(17.9 221.3) rotate(-90)" class="al" text-anchor="middle" textLength="115">Probability</text>
<text transform="translate(752.2 221.3) rotate(-90)" class="al" text-anchor="middle" textLength="115">Probability</text>
<text x="255.5" y="532.1" class="cap"><tspan class="capb">(a)</tspan> 2<tspan font-style="italic">d</tspan> open grid</text>
<text x="1039.3" y="532.1" class="cap"><tspan class="capb">(b)</tspan> Torus</text>
</svg>
</body></html>
